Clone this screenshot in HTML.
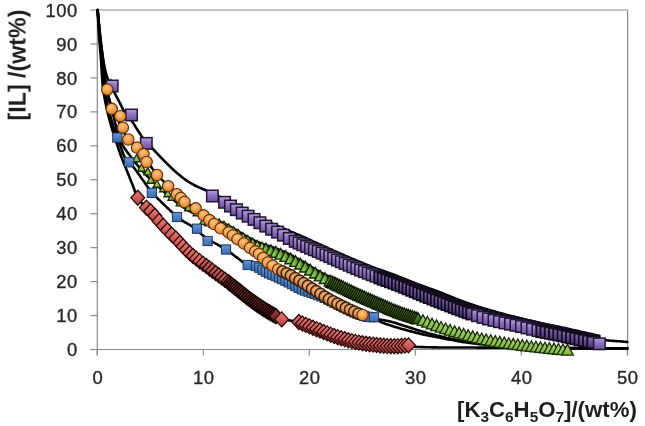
<!DOCTYPE html>
<html><head><meta charset="utf-8"><style>
html,body{margin:0;padding:0;background:#fff;}
body{width:645px;height:426px;overflow:hidden;}
svg{display:block;}
.ax{stroke:#8c8c8c;stroke-width:1.2;fill:none;}
.crv{stroke:#000;stroke-width:2.6;fill:none;stroke-linejoin:round;stroke-linecap:round;}
.tl{font-family:"Liberation Sans",sans-serif;font-size:18.4px;fill:#262626;stroke:#262626;stroke-width:0.35px;letter-spacing:0.5px;}
.tt{font-family:"Liberation Sans",sans-serif;font-size:21.5px;font-weight:bold;fill:#1e1e1e;}
.pu{fill:url(#gpu);stroke:#1f1630;stroke-width:1.5;}
.bl{fill:url(#gbl);stroke:#1b3558;stroke-width:1.0;}
.or{fill:url(#gor);stroke:#5a2f08;stroke-width:1.1;}
.gr{fill:url(#ggr);stroke:#1b2a08;stroke-width:1.3;stroke-linejoin:miter;}
.rd{fill:url(#grd);stroke:#2e0a09;stroke-width:1.3;stroke-linejoin:miter;}
.pu2{fill:url(#gpu2);stroke:#110b1c;stroke-width:1.8;}
.gr2{fill:url(#ggr2);stroke:#101a04;stroke-width:1.4;stroke-linejoin:miter;}
.rd2{fill:url(#grd2);stroke:#140303;stroke-width:1.5;stroke-linejoin:miter;}
.rd3{fill:url(#grd3);stroke:#2a0807;stroke-width:1.4;stroke-linejoin:miter;}
.or2{fill:url(#gor2);stroke:#3a1c08;stroke-width:1.5;}
.gr3{fill:url(#ggr3);stroke:#17260a;stroke-width:1.4;stroke-linejoin:miter;}
</style></head><body>
<svg width="645" height="426" viewBox="0 0 645 426">
<defs>
<linearGradient id="gpu" x1="0" y1="0" x2="0" y2="1"><stop offset="0" stop-color="#b49edc"/><stop offset="0.45" stop-color="#8f72bf"/><stop offset="1" stop-color="#6c50a0"/></linearGradient>
<linearGradient id="gbl" x1="0" y1="0" x2="0" y2="1"><stop offset="0" stop-color="#6a98d6"/><stop offset="0.5" stop-color="#4a7fc4"/><stop offset="1" stop-color="#3d6eae"/></linearGradient>
<radialGradient id="gor" cx="0.45" cy="0.35" r="0.65"><stop offset="0" stop-color="#fcc684"/><stop offset="0.6" stop-color="#f39a45"/><stop offset="1" stop-color="#d27426"/></radialGradient>
<linearGradient id="ggr" x1="0" y1="0" x2="0" y2="1"><stop offset="0" stop-color="#a8dc68"/><stop offset="1" stop-color="#80b43c"/></linearGradient>
<linearGradient id="grd" x1="0" y1="0" x2="0" y2="1"><stop offset="0" stop-color="#e77e7a"/><stop offset="0.5" stop-color="#d05c58"/><stop offset="1" stop-color="#ad403d"/></linearGradient>
<linearGradient id="gpu2" x1="0" y1="0" x2="0" y2="1"><stop offset="0" stop-color="#8470ad"/><stop offset="0.5" stop-color="#654d96"/><stop offset="1" stop-color="#45336f"/></linearGradient>
<linearGradient id="ggr2" x1="0" y1="0" x2="0" y2="1"><stop offset="0" stop-color="#5e9630"/><stop offset="1" stop-color="#2e5012"/></linearGradient>
<linearGradient id="grd2" x1="0" y1="0" x2="0" y2="1"><stop offset="0" stop-color="#9c403d"/><stop offset="1" stop-color="#5a1a19"/></linearGradient>
<linearGradient id="grd3" x1="0" y1="0" x2="0" y2="1"><stop offset="0" stop-color="#d06a66"/><stop offset="1" stop-color="#8e3432"/></linearGradient>
<radialGradient id="gor2" cx="0.5" cy="0.4" r="0.6"><stop offset="0" stop-color="#f0c088"/><stop offset="0.6" stop-color="#d89654"/><stop offset="1" stop-color="#9a5c26"/></radialGradient>
<linearGradient id="ggr3" x1="0" y1="0" x2="1" y2="0"><stop offset="0" stop-color="#4a7d22"/><stop offset="0.3" stop-color="#8fd052"/><stop offset="0.6" stop-color="#5e9630"/><stop offset="1" stop-color="#3f6a1c"/></linearGradient>
</defs>
<line class="ax" x1="97.3" y1="10" x2="627.6" y2="10"/>
<line class="ax" x1="627.6" y1="10" x2="627.6" y2="355.5"/>
<line class="ax" x1="97.3" y1="10" x2="97.3" y2="355.5"/>
<line class="ax" x1="90.5" y1="349.5" x2="627.6" y2="349.5"/>
<line class="ax" x1="90.5" y1="349.50" x2="97.3" y2="349.50"/>
<line class="ax" x1="90.5" y1="315.55" x2="97.3" y2="315.55"/>
<line class="ax" x1="90.5" y1="281.60" x2="97.3" y2="281.60"/>
<line class="ax" x1="90.5" y1="247.65" x2="97.3" y2="247.65"/>
<line class="ax" x1="90.5" y1="213.70" x2="97.3" y2="213.70"/>
<line class="ax" x1="90.5" y1="179.75" x2="97.3" y2="179.75"/>
<line class="ax" x1="90.5" y1="145.80" x2="97.3" y2="145.80"/>
<line class="ax" x1="90.5" y1="111.85" x2="97.3" y2="111.85"/>
<line class="ax" x1="90.5" y1="77.90" x2="97.3" y2="77.90"/>
<line class="ax" x1="90.5" y1="43.95" x2="97.3" y2="43.95"/>
<line class="ax" x1="90.5" y1="10.00" x2="97.3" y2="10.00"/>
<line class="ax" x1="97.30" y1="349.5" x2="97.30" y2="355.5"/>
<line class="ax" x1="203.30" y1="349.5" x2="203.30" y2="355.5"/>
<line class="ax" x1="309.30" y1="349.5" x2="309.30" y2="355.5"/>
<line class="ax" x1="415.30" y1="349.5" x2="415.30" y2="355.5"/>
<line class="ax" x1="521.30" y1="349.5" x2="521.30" y2="355.5"/>
<line class="ax" x1="627.30" y1="349.5" x2="627.30" y2="355.5"/>
<g opacity="0.995"><text class="tl" x="77.7" y="356.10" text-anchor="end">0</text>
<text class="tl" x="77.7" y="322.15" text-anchor="end">10</text>
<text class="tl" x="77.7" y="288.20" text-anchor="end">20</text>
<text class="tl" x="77.7" y="254.25" text-anchor="end">30</text>
<text class="tl" x="77.7" y="220.30" text-anchor="end">40</text>
<text class="tl" x="77.7" y="186.35" text-anchor="end">50</text>
<text class="tl" x="77.7" y="152.40" text-anchor="end">60</text>
<text class="tl" x="77.7" y="118.45" text-anchor="end">70</text>
<text class="tl" x="77.7" y="84.50" text-anchor="end">80</text>
<text class="tl" x="77.7" y="50.55" text-anchor="end">90</text>
<text class="tl" x="77.7" y="16.60" text-anchor="end">100</text>
<text class="tl" x="97.80" y="384.0" text-anchor="middle">0</text>
<text class="tl" x="203.80" y="384.0" text-anchor="middle">10</text>
<text class="tl" x="309.80" y="384.0" text-anchor="middle">20</text>
<text class="tl" x="415.80" y="384.0" text-anchor="middle">30</text>
<text class="tl" x="521.80" y="384.0" text-anchor="middle">40</text>
<text class="tl" x="627.80" y="384.0" text-anchor="middle">50</text>
<text class="tt" transform="translate(25.6,65) rotate(-90)" text-anchor="middle" textLength="110.8" lengthAdjust="spacingAndGlyphs" style="font-size:23.5px">[IL] /(wt%)</text>
<text class="tt" x="457" y="416.5" textLength="179.8" lengthAdjust="spacingAndGlyphs" style="font-size:22.3px">[K<tspan font-size="15.5" dy="5">3</tspan><tspan dy="-5">C</tspan><tspan font-size="15.5" dy="5">6</tspan><tspan dy="-5">H</tspan><tspan font-size="15.5" dy="5">5</tspan><tspan dy="-5">O</tspan><tspan font-size="15.5" dy="5">7</tspan><tspan dy="-5">]/(wt%)</tspan></text>
</g>
<path class="crv" d="M97.60,10.00 L97.67,11.25 L97.74,12.50 L97.80,13.75 L97.87,15.00 L97.94,16.25 L98.00,17.50 L98.07,18.75 L98.13,20.00 L98.20,21.25 L98.26,22.50 L98.33,23.75 L98.40,25.00 L98.47,26.25 L98.54,27.50 L98.61,28.75 L98.68,30.00 L98.76,31.25 L98.84,32.50 L98.92,33.75 L99.00,35.00 L99.09,36.25 L99.18,37.49 L99.27,38.73 L99.36,39.96 L99.46,41.20 L99.55,42.43 L99.65,43.66 L99.75,44.89 L99.85,46.12 L99.96,47.36 L100.06,48.60 L100.16,49.84 L100.27,51.08 L100.37,52.33 L100.48,53.59 L100.58,54.85 L100.69,56.13 L100.79,57.41 L100.90,58.70 L101.00,60.00 L101.11,61.44 L101.21,62.90 L101.31,64.37 L101.40,65.86 L101.49,67.36 L101.58,68.87 L101.66,70.39 L101.75,71.92 L101.84,73.45 L101.93,74.98 L102.03,76.51 L102.13,78.04 L102.24,79.57 L102.36,81.09 L102.49,82.60 L102.62,84.11 L102.77,85.60 L102.93,87.08 L103.11,88.55 L103.30,90.00 L103.49,91.35 L103.70,92.71 L103.91,94.06 L104.14,95.42 L104.37,96.77 L104.62,98.12 L104.87,99.46 L105.13,100.80 L105.39,102.13 L105.66,103.45 L105.94,104.77 L106.22,106.07 L106.50,107.37 L106.78,108.65 L107.07,109.91 L107.36,111.17 L107.64,112.40 L107.93,113.62 L108.22,114.82 L108.50,116.00 L108.74,116.97 L108.98,117.95 L109.23,118.91 L109.48,119.88 L109.73,120.83 L109.99,121.78 L110.25,122.72 L110.51,123.66 L110.77,124.58 L111.03,125.49 L111.29,126.38 L111.55,127.27 L111.81,128.14 L112.06,128.99 L112.32,129.82 L112.56,130.64 L112.81,131.44 L113.04,132.21 L113.27,132.97 L113.50,133.70 L113.65,134.19 L113.80,134.66 L113.94,135.11 L114.08,135.55 L114.22,135.97 L114.36,136.39 L114.49,136.79 L114.62,137.19 L114.76,137.58 L114.89,137.97 L115.02,138.35 L115.15,138.74 L115.29,139.13 L115.42,139.53 L115.56,139.93 L115.70,140.34 L115.84,140.76 L115.99,141.19 L116.14,141.64 L116.30,142.10 L116.51,142.72 L116.72,143.35 L116.93,143.99 L117.15,144.65 L117.37,145.32 L117.59,146.00 L117.81,146.69 L118.04,147.39 L118.28,148.10 L118.51,148.81 L118.75,149.53 L118.99,150.25 L119.23,150.97 L119.48,151.69 L119.73,152.42 L119.98,153.14 L120.23,153.86 L120.48,154.58 L120.74,155.29 L121.00,156.00 L121.28,156.74 L121.56,157.48 L121.84,158.23 L122.13,158.97 L122.42,159.72 L122.72,160.47 L123.02,161.22 L123.32,161.97 L123.63,162.72 L123.93,163.47 L124.24,164.23 L124.55,164.98 L124.86,165.73 L125.17,166.49 L125.47,167.24 L125.78,167.99 L126.09,168.75 L126.40,169.50 L126.70,170.25 L127.00,171.00 L127.30,171.75 L127.60,172.51 L127.91,173.27 L128.21,174.03 L128.51,174.79 L128.82,175.56 L129.13,176.32 L129.43,177.09 L129.74,177.85 L130.04,178.61 L130.34,179.37 L130.65,180.13 L130.95,180.88 L131.25,181.63 L131.54,182.38 L131.84,183.12 L132.13,183.85 L132.43,184.57 L132.71,185.29 L133.00,186.00 L133.25,186.62 L133.48,187.25 L133.71,187.87 L133.93,188.49 L134.15,189.10 L134.36,189.71 L134.57,190.32 L134.78,190.92 L134.99,191.52 L135.20,192.12 L135.42,192.71 L135.64,193.30 L135.87,193.88 L136.11,194.46 L136.35,195.03 L136.61,195.60 L136.89,196.16 L137.17,196.71 L137.48,197.26 L137.80,197.80 L138.15,198.34 L138.51,198.88 L138.89,199.41 L139.29,199.94 L139.70,200.47 L140.12,200.99 L140.56,201.50 L141.00,202.01 L141.45,202.52 L141.91,203.02 L142.36,203.51 L142.83,203.99 L143.29,204.47 L143.75,204.94 L144.21,205.40 L144.66,205.86 L145.11,206.31 L145.55,206.75 L145.98,207.18 L146.40,207.60 L146.74,207.94 L147.08,208.26 L147.41,208.57 L147.75,208.87 L148.08,209.16 L148.41,209.45 L148.74,209.72 L149.07,210.00 L149.39,210.27 L149.72,210.54 L150.05,210.81 L150.37,211.08 L150.70,211.35 L151.03,211.63 L151.35,211.92 L151.68,212.21 L152.01,212.52 L152.34,212.83 L152.67,213.16 L153.00,213.50 L153.40,213.93 L153.80,214.38 L154.20,214.84 L154.60,215.31 L155.00,215.80 L155.41,216.30 L155.81,216.80 L156.21,217.32 L156.61,217.84 L157.02,218.36 L157.42,218.89 L157.82,219.41 L158.23,219.94 L158.64,220.47 L159.04,220.99 L159.45,221.51 L159.86,222.02 L160.27,222.52 L160.69,223.02 L161.10,223.50 L161.50,223.96 L161.90,224.42 L162.31,224.87 L162.71,225.33 L163.12,225.78 L163.52,226.23 L163.93,226.68 L164.34,227.12 L164.75,227.57 L165.16,228.01 L165.57,228.45 L165.98,228.88 L166.39,229.32 L166.81,229.75 L167.22,230.18 L167.64,230.61 L168.05,231.03 L168.47,231.46 L168.88,231.88 L169.30,232.30 L169.71,232.70 L170.12,233.10 L170.53,233.50 L170.95,233.90 L171.38,234.29 L171.80,234.68 L172.23,235.07 L172.66,235.45 L173.08,235.84 L173.51,236.22 L173.93,236.60 L174.35,236.98 L174.77,237.36 L175.18,237.74 L175.58,238.12 L175.98,238.49 L176.37,238.87 L176.76,239.25 L177.13,239.62 L177.50,240.00 L177.81,240.33 L178.10,240.65 L178.39,240.97 L178.67,241.29 L178.95,241.61 L179.22,241.93 L179.48,242.24 L179.74,242.56 L180.00,242.87 L180.26,243.19 L180.52,243.51 L180.78,243.82 L181.04,244.14 L181.30,244.46 L181.57,244.78 L181.84,245.10 L182.12,245.42 L182.40,245.74 L182.70,246.07 L183.00,246.40 L183.36,246.78 L183.72,247.17 L184.09,247.56 L184.47,247.96 L184.85,248.35 L185.23,248.75 L185.62,249.15 L186.02,249.55 L186.42,249.95 L186.82,250.36 L187.22,250.76 L187.63,251.16 L188.05,251.56 L188.46,251.96 L188.88,252.36 L189.30,252.75 L189.72,253.15 L190.15,253.53 L190.57,253.92 L191.00,254.30 L191.45,254.69 L191.90,255.08 L192.36,255.47 L192.82,255.85 L193.29,256.23 L193.76,256.62 L194.23,256.99 L194.71,257.37 L195.19,257.75 L195.67,258.12 L196.15,258.49 L196.63,258.86 L197.12,259.23 L197.60,259.60 L198.09,259.97 L198.57,260.34 L199.06,260.70 L199.54,261.07 L200.02,261.44 L200.50,261.80 L200.97,262.16 L201.44,262.52 L201.92,262.87 L202.39,263.22 L202.86,263.57 L203.33,263.92 L203.81,264.27 L204.28,264.62 L204.75,264.97 L205.23,265.31 L205.70,265.66 L206.18,266.00 L206.65,266.35 L207.13,266.70 L207.61,267.05 L208.08,267.39 L208.56,267.74 L209.04,268.09 L209.52,268.45 L210.00,268.80 L210.50,269.17 L210.99,269.53 L211.49,269.90 L212.00,270.28 L212.50,270.65 L213.00,271.02 L213.51,271.40 L214.02,271.77 L214.52,272.15 L215.03,272.53 L215.54,272.90 L216.04,273.27 L216.54,273.65 L217.05,274.02 L217.55,274.39 L218.04,274.76 L218.54,275.12 L219.03,275.48 L219.52,275.84 L220.00,276.20 L220.44,276.53 L220.88,276.85 L221.31,277.16 L221.74,277.47 L222.17,277.78 L222.59,278.09 L223.01,278.39 L223.43,278.70 L223.85,279.00 L224.27,279.30 L224.69,279.61 L225.11,279.91 L225.54,280.22 L225.96,280.53 L226.39,280.85 L226.82,281.17 L227.26,281.49 L227.70,281.82 L228.15,282.16 L228.60,282.50 L229.14,282.91 L229.68,283.33 L230.24,283.76 L230.80,284.19 L231.36,284.64 L231.94,285.09 L232.51,285.54 L233.09,286.00 L233.67,286.46 L234.26,286.92 L234.84,287.38 L235.43,287.85 L236.01,288.32 L236.59,288.78 L237.17,289.24 L237.75,289.70 L238.32,290.16 L238.88,290.61 L239.45,291.06 L240.00,291.50 L240.52,291.91 L241.03,292.32 L241.53,292.73 L242.04,293.14 L242.54,293.55 L243.04,293.96 L243.54,294.37 L244.04,294.77 L244.53,295.18 L245.03,295.58 L245.52,295.98 L246.02,296.38 L246.51,296.78 L247.00,297.18 L247.50,297.57 L248.00,297.96 L248.49,298.35 L248.99,298.74 L249.50,299.12 L250.00,299.50 L250.49,299.87 L250.99,300.24 L251.49,300.60 L251.98,300.96 L252.48,301.32 L252.98,301.68 L253.48,302.03 L253.98,302.39 L254.47,302.74 L254.98,303.09 L255.48,303.44 L255.98,303.78 L256.48,304.13 L256.98,304.47 L257.48,304.81 L257.99,305.15 L258.49,305.49 L258.99,305.83 L259.50,306.16 L260.00,306.50 L260.50,306.83 L260.99,307.15 L261.48,307.48 L261.98,307.80 L262.47,308.12 L262.96,308.43 L263.46,308.75 L263.95,309.07 L264.44,309.38 L264.94,309.69 L265.43,310.00 L265.93,310.31 L266.43,310.62 L266.93,310.93 L267.44,311.24 L267.94,311.55 L268.45,311.86 L268.97,312.18 L269.48,312.49 L270.00,312.80 L270.56,313.14 L271.12,313.49 L271.68,313.85 L272.26,314.22 L272.83,314.59 L273.41,314.97 L274.00,315.35 L274.58,315.72 L275.17,316.10 L275.76,316.47 L276.34,316.83 L276.93,317.18 L277.51,317.52 L278.10,317.85 L278.68,318.16 L279.25,318.45 L279.82,318.73 L280.39,318.98 L280.95,319.20 L281.50,319.40 L281.94,319.54 L282.38,319.66 L282.81,319.76 L283.24,319.85 L283.67,319.93 L284.09,319.99 L284.52,320.05 L284.94,320.09 L285.36,320.13 L285.78,320.16 L286.20,320.19 L286.62,320.21 L287.04,320.24 L287.45,320.26 L287.88,320.29 L288.30,320.32 L288.72,320.35 L289.14,320.39 L289.57,320.44 L290.00,320.50 L290.44,320.56 L290.88,320.62 L291.31,320.68 L291.73,320.74 L292.16,320.79 L292.58,320.85 L293.01,320.90 L293.43,320.96 L293.86,321.01 L294.29,321.07 L294.72,321.14 L295.16,321.21 L295.61,321.28 L296.06,321.36 L296.52,321.44 L296.99,321.54 L297.48,321.64 L297.97,321.75 L298.48,321.87 L299.00,322.00 L299.82,322.22 L300.67,322.46 L301.55,322.73 L302.47,323.02 L303.40,323.33 L304.37,323.65 L305.35,323.99 L306.35,324.35 L307.36,324.71 L308.38,325.09 L309.42,325.47 L310.45,325.85 L311.50,326.24 L312.54,326.64 L313.57,327.03 L314.60,327.41 L315.62,327.80 L316.63,328.17 L317.62,328.54 L318.60,328.90 L319.54,329.25 L320.48,329.60 L321.42,329.96 L322.35,330.32 L323.28,330.69 L324.21,331.06 L325.14,331.42 L326.06,331.79 L326.99,332.16 L327.91,332.53 L328.84,332.90 L329.76,333.26 L330.69,333.61 L331.61,333.96 L332.54,334.31 L333.47,334.65 L334.40,334.97 L335.33,335.29 L336.26,335.60 L337.20,335.90 L338.12,336.18 L339.05,336.46 L339.97,336.73 L340.90,336.99 L341.82,337.25 L342.75,337.50 L343.68,337.75 L344.61,337.99 L345.54,338.22 L346.47,338.45 L347.40,338.68 L348.33,338.90 L349.26,339.11 L350.20,339.32 L351.13,339.53 L352.06,339.73 L353.00,339.93 L353.93,340.12 L354.87,340.31 L355.80,340.50 L356.73,340.68 L357.65,340.86 L358.58,341.02 L359.51,341.19 L360.44,341.35 L361.37,341.50 L362.29,341.65 L363.22,341.79 L364.16,341.93 L365.09,342.07 L366.02,342.21 L366.95,342.34 L367.88,342.46 L368.81,342.59 L369.74,342.71 L370.67,342.83 L371.61,342.95 L372.54,343.07 L373.47,343.18 L374.40,343.30 L375.33,343.41 L376.26,343.52 L377.20,343.63 L378.14,343.73 L379.08,343.83 L380.02,343.92 L380.96,344.02 L381.90,344.11 L382.84,344.19 L383.78,344.28 L384.72,344.37 L385.66,344.45 L386.59,344.53 L387.52,344.61 L388.45,344.69 L389.37,344.78 L390.28,344.86 L391.20,344.94 L392.10,345.02 L393.00,345.10 L393.82,345.18 L394.64,345.25 L395.44,345.33 L396.24,345.41 L397.03,345.48 L397.82,345.56 L398.60,345.64 L399.38,345.71 L400.16,345.78 L400.94,345.86 L401.72,345.93 L402.50,346.00 L403.28,346.07 L404.08,346.14 L404.87,346.20 L405.68,346.27 L406.49,346.33 L407.32,346.39 L408.15,346.45 L409.00,346.50 L409.97,346.56 L410.94,346.62 L411.91,346.67 L412.87,346.72 L413.84,346.77 L414.81,346.82 L415.78,346.86 L416.76,346.90 L417.75,346.94 L418.76,346.98 L419.78,347.02 L420.82,347.06 L421.87,347.09 L422.95,347.12 L424.05,347.15 L425.18,347.18 L426.34,347.21 L427.52,347.24 L428.74,347.27 L430.00,347.30 L432.00,347.34 L434.08,347.38 L436.23,347.41 L438.45,347.43 L440.72,347.45 L443.06,347.47 L445.45,347.49 L447.90,347.50 L450.39,347.51 L452.93,347.52 L455.51,347.53 L458.13,347.53 L460.78,347.54 L463.47,347.54 L466.18,347.55 L468.91,347.56 L471.66,347.57 L474.43,347.57 L477.21,347.59 L480.00,347.60 L483.59,347.62 L487.27,347.64 L491.05,347.66 L494.91,347.68 L498.85,347.70 L502.84,347.72 L506.89,347.74 L510.98,347.76 L515.11,347.78 L519.26,347.80 L523.43,347.82 L527.60,347.84 L531.77,347.86 L535.92,347.88 L540.05,347.90 L544.14,347.92 L548.20,347.94 L552.20,347.96 L556.13,347.98 L560.00,348.00 L563.50,348.02 L566.97,348.03 L570.41,348.05 L573.83,348.06 L577.23,348.08 L580.62,348.09 L583.98,348.11 L587.34,348.12 L590.68,348.14 L594.01,348.15 L597.34,348.17 L600.66,348.18 L603.98,348.20 L607.29,348.21 L610.61,348.23 L613.93,348.24 L617.26,348.26 L620.60,348.27 L623.94,348.29 L627.30,348.30"/>
<path class="crv" d="M97.60,10.00 L97.69,11.25 L97.79,12.50 L97.88,13.75 L97.97,15.00 L98.06,16.25 L98.15,17.50 L98.24,18.75 L98.33,20.00 L98.42,21.25 L98.51,22.50 L98.60,23.75 L98.70,25.00 L98.79,26.25 L98.89,27.50 L98.98,28.75 L99.08,30.00 L99.18,31.25 L99.29,32.50 L99.39,33.75 L99.50,35.00 L99.61,36.25 L99.72,37.49 L99.84,38.73 L99.96,39.97 L100.08,41.20 L100.20,42.43 L100.32,43.66 L100.45,44.89 L100.57,46.12 L100.70,47.36 L100.83,48.60 L100.95,49.84 L101.08,51.08 L101.21,52.33 L101.34,53.59 L101.48,54.85 L101.61,56.13 L101.74,57.41 L101.87,58.70 L102.00,60.00 L102.14,61.44 L102.28,62.90 L102.41,64.38 L102.54,65.87 L102.67,67.38 L102.80,68.89 L102.93,70.41 L103.06,71.94 L103.19,73.48 L103.32,75.01 L103.46,76.55 L103.60,78.08 L103.75,79.61 L103.90,81.13 L104.07,82.64 L104.23,84.14 L104.41,85.63 L104.60,87.11 L104.79,88.56 L105.00,90.00 L105.20,91.31 L105.40,92.60 L105.60,93.88 L105.81,95.15 L106.02,96.41 L106.23,97.66 L106.45,98.91 L106.68,100.15 L106.91,101.39 L107.15,102.62 L107.39,103.85 L107.65,105.08 L107.91,106.31 L108.18,107.54 L108.45,108.77 L108.74,110.00 L109.04,111.24 L109.35,112.49 L109.67,113.74 L110.00,115.00 L110.37,116.35 L110.75,117.71 L111.16,119.09 L111.58,120.48 L112.01,121.87 L112.46,123.27 L112.92,124.68 L113.38,126.08 L113.86,127.49 L114.34,128.89 L114.82,130.28 L115.31,131.66 L115.80,133.04 L116.29,134.39 L116.77,135.73 L117.25,137.06 L117.73,138.36 L118.19,139.63 L118.65,140.88 L119.10,142.10 L119.45,143.08 L119.80,144.06 L120.14,145.04 L120.47,146.02 L120.80,146.99 L121.13,147.96 L121.45,148.92 L121.77,149.86 L122.10,150.80 L122.42,151.72 L122.75,152.62 L123.09,153.51 L123.43,154.37 L123.78,155.21 L124.13,156.03 L124.50,156.83 L124.88,157.59 L125.27,158.33 L125.68,159.03 L126.10,159.70 L126.42,160.16 L126.74,160.59 L127.07,161.00 L127.41,161.38 L127.75,161.75 L128.09,162.09 L128.45,162.43 L128.80,162.75 L129.16,163.06 L129.52,163.37 L129.89,163.68 L130.25,163.99 L130.62,164.30 L130.99,164.61 L131.36,164.94 L131.73,165.27 L132.10,165.63 L132.47,166.00 L132.83,166.39 L133.20,166.80 L133.67,167.36 L134.14,167.94 L134.62,168.55 L135.10,169.17 L135.59,169.82 L136.08,170.48 L136.57,171.15 L137.06,171.83 L137.56,172.52 L138.05,173.22 L138.54,173.92 L139.03,174.63 L139.52,175.33 L140.00,176.03 L140.48,176.72 L140.96,177.40 L141.43,178.07 L141.89,178.73 L142.35,179.38 L142.80,180.00 L143.18,180.53 L143.56,181.07 L143.94,181.59 L144.31,182.12 L144.68,182.65 L145.04,183.17 L145.40,183.69 L145.76,184.20 L146.12,184.72 L146.47,185.22 L146.82,185.73 L147.18,186.22 L147.53,186.72 L147.88,187.20 L148.23,187.69 L148.58,188.16 L148.93,188.63 L149.29,189.09 L149.64,189.55 L150.00,190.00 L150.31,190.38 L150.61,190.75 L150.90,191.10 L151.19,191.44 L151.47,191.78 L151.76,192.11 L152.04,192.44 L152.32,192.76 L152.60,193.08 L152.89,193.39 L153.18,193.71 L153.48,194.04 L153.78,194.36 L154.09,194.69 L154.41,195.03 L154.74,195.38 L155.08,195.74 L155.44,196.11 L155.81,196.50 L156.20,196.90 L156.86,197.57 L157.56,198.29 L158.32,199.05 L159.11,199.84 L159.94,200.66 L160.81,201.51 L161.69,202.38 L162.60,203.26 L163.52,204.15 L164.45,205.04 L165.39,205.93 L166.32,206.82 L167.25,207.70 L168.16,208.56 L169.06,209.40 L169.93,210.21 L170.78,210.99 L171.59,211.74 L172.37,212.44 L173.10,213.10 L173.58,213.53 L174.04,213.94 L174.48,214.34 L174.92,214.73 L175.34,215.10 L175.76,215.47 L176.17,215.83 L176.57,216.18 L176.97,216.53 L177.37,216.87 L177.76,217.20 L178.15,217.53 L178.55,217.85 L178.95,218.17 L179.35,218.49 L179.76,218.81 L180.18,219.13 L180.61,219.45 L181.05,219.78 L181.50,220.10 L181.99,220.44 L182.49,220.77 L182.99,221.09 L183.49,221.40 L184.00,221.71 L184.52,222.01 L185.03,222.30 L185.56,222.60 L186.08,222.89 L186.62,223.19 L187.15,223.48 L187.69,223.78 L188.23,224.09 L188.78,224.40 L189.32,224.72 L189.87,225.05 L190.43,225.39 L190.98,225.75 L191.54,226.12 L192.10,226.50 L192.80,227.00 L193.50,227.53 L194.21,228.07 L194.91,228.64 L195.63,229.22 L196.34,229.82 L197.06,230.44 L197.79,231.06 L198.52,231.69 L199.26,232.32 L200.00,232.96 L200.75,233.61 L201.51,234.25 L202.27,234.88 L203.04,235.51 L203.81,236.14 L204.60,236.75 L205.39,237.35 L206.19,237.93 L207.00,238.50 L207.88,239.09 L208.77,239.66 L209.67,240.23 L210.59,240.78 L211.51,241.32 L212.45,241.85 L213.39,242.38 L214.34,242.90 L215.30,243.42 L216.26,243.94 L217.23,244.46 L218.20,244.98 L219.18,245.51 L220.15,246.05 L221.13,246.59 L222.11,247.14 L223.08,247.71 L224.06,248.29 L225.03,248.89 L226.00,249.50 L227.07,250.21 L228.15,250.95 L229.24,251.73 L230.33,252.53 L231.43,253.35 L232.54,254.20 L233.65,255.05 L234.75,255.91 L235.86,256.78 L236.97,257.64 L238.08,258.49 L239.18,259.33 L240.28,260.15 L241.37,260.95 L242.45,261.73 L243.52,262.47 L244.59,263.17 L245.64,263.83 L246.68,264.44 L247.70,265.00 L248.48,265.39 L249.25,265.76 L250.01,266.09 L250.77,266.40 L251.53,266.69 L252.28,266.97 L253.03,267.22 L253.77,267.46 L254.51,267.70 L255.24,267.92 L255.97,268.14 L256.70,268.35 L257.43,268.57 L258.16,268.79 L258.88,269.01 L259.61,269.24 L260.33,269.48 L261.05,269.74 L261.78,270.01 L262.50,270.30 L263.22,270.60 L263.92,270.90 L264.62,271.20 L265.31,271.51 L265.99,271.82 L266.67,272.13 L267.35,272.44 L268.03,272.76 L268.70,273.08 L269.38,273.40 L270.06,273.74 L270.75,274.07 L271.44,274.41 L272.14,274.76 L272.86,275.12 L273.58,275.48 L274.31,275.85 L275.06,276.22 L275.82,276.61 L276.60,277.00 L277.64,277.53 L278.72,278.09 L279.82,278.68 L280.94,279.28 L282.08,279.90 L283.25,280.54 L284.42,281.19 L285.62,281.85 L286.82,282.52 L288.03,283.19 L289.25,283.86 L290.47,284.53 L291.68,285.20 L292.90,285.86 L294.11,286.50 L295.32,287.14 L296.51,287.76 L297.69,288.36 L298.85,288.94 L300.00,289.50 L301.03,289.99 L302.04,290.46 L303.06,290.93 L304.07,291.39 L305.07,291.83 L306.08,292.28 L307.08,292.71 L308.07,293.14 L309.07,293.56 L310.06,293.98 L311.05,294.39 L312.04,294.80 L313.03,295.20 L314.02,295.60 L315.01,296.00 L316.01,296.40 L317.00,296.80 L318.00,297.20 L319.00,297.60 L320.00,298.00 L321.00,298.40 L321.99,298.79 L322.99,299.18 L323.99,299.57 L324.98,299.96 L325.98,300.35 L326.98,300.73 L327.98,301.11 L328.98,301.49 L329.98,301.87 L330.98,302.24 L331.98,302.61 L332.98,302.98 L333.98,303.35 L334.98,303.71 L335.99,304.08 L336.99,304.44 L337.99,304.79 L339.00,305.15 L340.00,305.50 L341.00,305.85 L342.01,306.19 L343.03,306.53 L344.05,306.86 L345.08,307.19 L346.11,307.52 L347.14,307.84 L348.17,308.17 L349.20,308.49 L350.22,308.81 L351.25,309.13 L352.26,309.44 L353.27,309.76 L354.27,310.08 L355.26,310.40 L356.24,310.71 L357.20,311.03 L358.15,311.35 L359.08,311.68 L360.00,312.00 L360.77,312.27 L361.54,312.55 L362.31,312.82 L363.07,313.09 L363.84,313.37 L364.59,313.64 L365.35,313.91 L366.09,314.18 L366.83,314.46 L367.56,314.73 L368.28,315.00 L368.98,315.28 L369.67,315.55 L370.35,315.83 L371.01,316.10 L371.65,316.38 L372.27,316.66 L372.87,316.94 L373.45,317.22 L374.00,317.50 L374.37,317.70 L374.71,317.90 L375.04,318.10 L375.36,318.30 L375.67,318.51 L375.96,318.71 L376.24,318.92 L376.52,319.13 L376.79,319.33 L377.06,319.54 L377.33,319.75 L377.60,319.95 L377.87,320.15 L378.15,320.35 L378.43,320.55 L378.72,320.75 L379.02,320.94 L379.33,321.13 L379.66,321.32 L380.00,321.50 L380.43,321.72 L380.86,321.92 L381.29,322.13 L381.72,322.32 L382.16,322.51 L382.61,322.70 L383.06,322.88 L383.52,323.06 L383.99,323.24 L384.47,323.42 L384.95,323.60 L385.45,323.78 L385.97,323.96 L386.50,324.14 L387.04,324.32 L387.59,324.51 L388.17,324.70 L388.76,324.89 L389.37,325.09 L390.00,325.30 L391.14,325.67 L392.37,326.06 L393.67,326.47 L395.05,326.89 L396.49,327.32 L397.99,327.76 L399.53,328.21 L401.11,328.67 L402.71,329.13 L404.35,329.59 L405.99,330.05 L407.64,330.50 L409.28,330.95 L410.92,331.38 L412.53,331.81 L414.11,332.23 L415.66,332.62 L417.16,333.00 L418.61,333.36 L420.00,333.70 L421.08,333.96 L422.14,334.20 L423.19,334.43 L424.21,334.66 L425.22,334.87 L426.21,335.08 L427.19,335.28 L428.17,335.47 L429.13,335.66 L430.10,335.85 L431.06,336.03 L432.02,336.21 L432.98,336.39 L433.95,336.57 L434.93,336.75 L435.92,336.93 L436.91,337.12 L437.93,337.31 L438.95,337.50 L440.00,337.70 L441.18,337.93 L442.37,338.16 L443.56,338.40 L444.75,338.63 L445.95,338.88 L447.16,339.12 L448.37,339.36 L449.59,339.60 L450.81,339.84 L452.05,340.08 L453.30,340.32 L454.55,340.56 L455.81,340.79 L457.09,341.03 L458.38,341.25 L459.68,341.47 L460.99,341.69 L462.31,341.90 L463.65,342.10 L465.00,342.30 L466.60,342.52 L468.21,342.74 L469.83,342.95 L471.46,343.16 L473.10,343.36 L474.76,343.55 L476.43,343.74 L478.11,343.92 L479.81,344.10 L481.53,344.28 L483.27,344.45 L485.03,344.61 L486.81,344.77 L488.61,344.93 L490.44,345.08 L492.30,345.23 L494.18,345.38 L496.09,345.52 L498.03,345.66 L500.00,345.80 L502.63,345.97 L505.33,346.14 L508.09,346.29 L510.91,346.44 L513.78,346.58 L516.70,346.71 L519.67,346.83 L522.67,346.95 L525.71,347.06 L528.77,347.17 L531.86,347.27 L534.97,347.36 L538.10,347.45 L541.24,347.54 L544.38,347.62 L547.52,347.70 L550.66,347.78 L553.79,347.86 L556.90,347.93 L560.00,348.00 L563.28,348.07 L566.57,348.13 L569.88,348.19 L573.21,348.23 L576.55,348.28 L579.90,348.31 L583.27,348.34 L586.64,348.37 L590.02,348.39 L593.41,348.41 L596.80,348.43 L600.19,348.45 L603.59,348.46 L606.99,348.48 L610.38,348.49 L613.78,348.51 L617.17,348.53 L620.55,348.55 L623.93,348.57 L627.30,348.60"/>
<path class="crv" d="M97.60,10.00 L97.71,11.25 L97.82,12.50 L97.93,13.75 L98.03,15.00 L98.14,16.25 L98.24,17.50 L98.35,18.75 L98.46,20.00 L98.56,21.25 L98.67,22.50 L98.78,23.75 L98.88,25.00 L98.99,26.25 L99.10,27.50 L99.22,28.75 L99.33,30.00 L99.44,31.25 L99.56,32.50 L99.68,33.75 L99.80,35.00 L99.92,36.25 L100.05,37.50 L100.17,38.75 L100.30,40.00 L100.42,41.25 L100.55,42.50 L100.68,43.75 L100.81,45.00 L100.94,46.25 L101.07,47.50 L101.20,48.75 L101.34,50.00 L101.48,51.25 L101.62,52.50 L101.76,53.75 L101.90,55.00 L102.05,56.25 L102.20,57.50 L102.35,58.75 L102.50,60.00 L102.65,61.25 L102.81,62.50 L102.96,63.75 L103.11,65.01 L103.26,66.26 L103.41,67.51 L103.57,68.76 L103.73,70.01 L103.89,71.27 L104.05,72.52 L104.22,73.77 L104.39,75.02 L104.56,76.27 L104.75,77.52 L104.94,78.77 L105.13,80.02 L105.34,81.26 L105.55,82.51 L105.77,83.76 L106.00,85.00 L106.24,86.25 L106.49,87.50 L106.75,88.73 L107.01,89.97 L107.28,91.20 L107.56,92.42 L107.84,93.65 L108.13,94.87 L108.42,96.10 L108.72,97.33 L109.03,98.56 L109.34,99.80 L109.66,101.04 L109.98,102.29 L110.31,103.55 L110.64,104.81 L110.97,106.09 L111.31,107.38 L111.65,108.68 L112.00,110.00 L112.40,111.53 L112.79,113.11 L113.19,114.72 L113.58,116.36 L113.98,118.03 L114.39,119.72 L114.80,121.42 L115.21,123.13 L115.64,124.84 L116.07,126.54 L116.52,128.24 L116.97,129.92 L117.44,131.58 L117.92,133.21 L118.42,134.81 L118.94,136.37 L119.47,137.88 L120.03,139.35 L120.60,140.76 L121.20,142.10 L121.68,143.11 L122.18,144.09 L122.68,145.04 L123.20,145.97 L123.74,146.87 L124.28,147.75 L124.83,148.61 L125.39,149.46 L125.95,150.29 L126.53,151.11 L127.11,151.91 L127.70,152.71 L128.29,153.50 L128.88,154.28 L129.48,155.07 L130.08,155.85 L130.69,156.63 L131.29,157.41 L131.90,158.20 L132.50,159.00 L133.09,159.78 L133.69,160.56 L134.30,161.34 L134.91,162.11 L135.53,162.89 L136.15,163.66 L136.77,164.42 L137.40,165.18 L138.03,165.94 L138.67,166.69 L139.30,167.43 L139.94,168.17 L140.58,168.90 L141.22,169.63 L141.85,170.35 L142.49,171.05 L143.12,171.76 L143.75,172.45 L144.38,173.13 L145.00,173.80 L145.55,174.39 L146.10,174.96 L146.64,175.53 L147.18,176.08 L147.72,176.63 L148.26,177.16 L148.80,177.69 L149.33,178.22 L149.87,178.74 L150.41,179.26 L150.95,179.78 L151.49,180.29 L152.04,180.81 L152.59,181.32 L153.14,181.84 L153.70,182.36 L154.27,182.89 L154.84,183.42 L155.41,183.95 L156.00,184.50 L156.65,185.11 L157.32,185.73 L157.98,186.35 L158.65,186.97 L159.33,187.60 L160.01,188.23 L160.70,188.86 L161.39,189.49 L162.09,190.13 L162.79,190.76 L163.49,191.39 L164.20,192.03 L164.91,192.66 L165.63,193.29 L166.35,193.92 L167.07,194.54 L167.80,195.16 L168.53,195.78 L169.26,196.39 L170.00,197.00 L170.76,197.63 L171.54,198.26 L172.32,198.89 L173.10,199.53 L173.89,200.17 L174.69,200.80 L175.49,201.44 L176.30,202.07 L177.10,202.70 L177.91,203.33 L178.73,203.95 L179.54,204.56 L180.35,205.16 L181.16,205.75 L181.98,206.33 L182.79,206.89 L183.60,207.44 L184.40,207.98 L185.20,208.50 L186.00,209.00 L186.70,209.43 L187.39,209.85 L188.08,210.25 L188.76,210.65 L189.44,211.04 L190.12,211.41 L190.80,211.78 L191.47,212.14 L192.15,212.49 L192.83,212.84 L193.51,213.18 L194.20,213.51 L194.89,213.83 L195.59,214.16 L196.30,214.47 L197.02,214.78 L197.74,215.09 L198.48,215.40 L199.23,215.70 L200.00,216.00 L200.89,216.33 L201.81,216.64 L202.74,216.94 L203.70,217.23 L204.67,217.50 L205.66,217.76 L206.66,218.01 L207.67,218.26 L208.68,218.51 L209.70,218.75 L210.71,218.99 L211.72,219.24 L212.73,219.49 L213.73,219.74 L214.72,220.01 L215.69,220.28 L216.65,220.56 L217.59,220.86 L218.51,221.17 L219.40,221.50 L220.17,221.80 L220.92,222.11 L221.66,222.42 L222.39,222.74 L223.10,223.07 L223.81,223.39 L224.51,223.73 L225.20,224.07 L225.88,224.41 L226.57,224.76 L227.25,225.11 L227.93,225.47 L228.61,225.83 L229.29,226.20 L229.97,226.57 L230.66,226.95 L231.36,227.33 L232.06,227.72 L232.78,228.11 L233.50,228.50 L234.32,228.95 L235.16,229.43 L236.01,229.92 L236.87,230.42 L237.74,230.94 L238.62,231.47 L239.50,232.01 L240.38,232.55 L241.27,233.09 L242.15,233.64 L243.03,234.18 L243.90,234.71 L244.76,235.24 L245.62,235.76 L246.46,236.26 L247.28,236.75 L248.09,237.22 L248.88,237.67 L249.65,238.10 L250.40,238.50 L250.93,238.78 L251.44,239.05 L251.93,239.30 L252.41,239.55 L252.88,239.79 L253.34,240.02 L253.79,240.24 L254.23,240.46 L254.67,240.67 L255.11,240.88 L255.56,241.08 L256.00,241.29 L256.46,241.49 L256.92,241.70 L257.39,241.91 L257.88,242.11 L258.38,242.33 L258.90,242.55 L259.44,242.77 L260.00,243.00 L260.83,243.33 L261.70,243.66 L262.60,243.98 L263.53,244.31 L264.48,244.63 L265.46,244.96 L266.46,245.29 L267.48,245.62 L268.52,245.95 L269.56,246.28 L270.62,246.62 L271.68,246.97 L272.74,247.32 L273.80,247.68 L274.86,248.04 L275.91,248.42 L276.96,248.80 L277.99,249.19 L279.00,249.59 L280.00,250.00 L281.01,250.43 L282.02,250.88 L283.03,251.33 L284.04,251.79 L285.05,252.26 L286.05,252.74 L287.06,253.22 L288.06,253.71 L289.06,254.21 L290.06,254.71 L291.06,255.22 L292.06,255.74 L293.05,256.26 L294.05,256.78 L295.04,257.31 L296.04,257.84 L297.03,258.38 L298.02,258.92 L299.01,259.46 L300.00,260.00 L301.01,260.56 L302.02,261.13 L303.02,261.72 L304.02,262.31 L305.02,262.92 L306.02,263.52 L307.01,264.14 L308.01,264.76 L309.01,265.38 L310.00,266.00 L310.99,266.62 L311.99,267.24 L312.99,267.86 L313.98,268.48 L314.98,269.08 L315.98,269.69 L316.98,270.28 L317.98,270.87 L318.99,271.44 L320.00,272.00 L320.99,272.54 L321.98,273.07 L322.98,273.60 L323.97,274.12 L324.97,274.63 L325.97,275.14 L326.97,275.65 L327.97,276.15 L328.97,276.64 L329.97,277.14 L330.97,277.63 L331.97,278.12 L332.98,278.60 L333.98,279.09 L334.98,279.57 L335.99,280.06 L336.99,280.54 L337.99,281.03 L339.00,281.51 L340.00,282.00 L340.99,282.48 L341.99,282.97 L342.97,283.45 L343.96,283.92 L344.94,284.40 L345.92,284.87 L346.90,285.34 L347.88,285.81 L348.86,286.28 L349.85,286.75 L350.83,287.22 L351.82,287.69 L352.82,288.16 L353.82,288.64 L354.83,289.11 L355.85,289.58 L356.87,290.06 L357.90,290.54 L358.95,291.02 L360.00,291.50 L361.19,292.04 L362.41,292.59 L363.65,293.15 L364.91,293.72 L366.19,294.29 L367.48,294.86 L368.79,295.43 L370.09,296.01 L371.40,296.58 L372.71,297.15 L374.02,297.72 L375.31,298.29 L376.60,298.85 L377.87,299.40 L379.13,299.94 L380.36,300.48 L381.56,301.00 L382.74,301.52 L383.89,302.02 L385.00,302.50 L385.83,302.86 L386.64,303.22 L387.44,303.56 L388.21,303.89 L388.97,304.22 L389.71,304.54 L390.45,304.86 L391.17,305.17 L391.89,305.48 L392.61,305.79 L393.32,306.09 L394.03,306.40 L394.75,306.71 L395.46,307.02 L396.19,307.33 L396.93,307.65 L397.67,307.98 L398.43,308.31 L399.21,308.65 L400.00,309.00 L400.94,309.42 L401.88,309.84 L402.85,310.28 L403.82,310.72 L404.80,311.17 L405.79,311.62 L406.78,312.08 L407.79,312.54 L408.80,313.00 L409.81,313.47 L410.83,313.94 L411.85,314.40 L412.87,314.87 L413.90,315.33 L414.92,315.79 L415.94,316.25 L416.96,316.70 L417.98,317.14 L418.99,317.57 L420.00,318.00 L420.99,318.42 L421.99,318.83 L422.99,319.24 L423.98,319.65 L424.98,320.06 L425.98,320.46 L426.98,320.86 L427.97,321.26 L428.97,321.66 L429.97,322.05 L430.97,322.44 L431.97,322.83 L432.98,323.21 L433.98,323.59 L434.98,323.97 L435.98,324.34 L436.99,324.71 L437.99,325.08 L438.99,325.44 L440.00,325.80 L440.99,326.15 L441.99,326.50 L442.99,326.84 L443.98,327.18 L444.98,327.52 L445.98,327.85 L446.98,328.18 L447.98,328.51 L448.98,328.83 L449.98,329.15 L450.98,329.47 L451.98,329.78 L452.98,330.09 L453.98,330.40 L454.98,330.71 L455.99,331.01 L456.99,331.31 L457.99,331.61 L459.00,331.91 L460.00,332.20 L461.00,332.49 L461.99,332.78 L462.99,333.07 L463.99,333.35 L464.99,333.63 L465.98,333.91 L466.98,334.19 L467.98,334.47 L468.98,334.74 L469.98,335.01 L470.98,335.27 L471.98,335.54 L472.98,335.80 L473.98,336.05 L474.99,336.30 L475.99,336.55 L476.99,336.79 L477.99,337.03 L479.00,337.27 L480.00,337.50 L481.00,337.72 L481.99,337.94 L482.99,338.16 L483.99,338.37 L484.99,338.57 L485.99,338.77 L486.99,338.97 L487.98,339.17 L488.98,339.36 L489.99,339.55 L490.99,339.73 L491.99,339.91 L492.99,340.09 L493.99,340.27 L494.99,340.45 L495.99,340.62 L496.99,340.79 L498.00,340.96 L499.00,341.13 L500.00,341.30 L501.00,341.47 L502.00,341.63 L503.00,341.79 L503.99,341.94 L504.99,342.10 L505.99,342.25 L506.99,342.40 L507.99,342.55 L508.99,342.69 L509.99,342.84 L510.99,342.98 L511.99,343.12 L512.99,343.26 L514.00,343.39 L515.00,343.53 L516.00,343.67 L517.00,343.80 L518.00,343.93 L519.00,344.07 L520.00,344.20 L521.00,344.33 L521.98,344.46 L522.97,344.60 L523.95,344.73 L524.93,344.86 L525.90,344.98 L526.88,345.11 L527.85,345.24 L528.83,345.36 L529.81,345.48 L530.79,345.61 L531.78,345.73 L532.77,345.84 L533.77,345.96 L534.78,346.07 L535.80,346.18 L536.83,346.29 L537.88,346.40 L538.93,346.50 L540.00,346.60 L541.25,346.71 L542.52,346.82 L543.80,346.93 L545.09,347.04 L546.40,347.14 L547.71,347.24 L549.04,347.33 L550.37,347.43 L551.72,347.52 L553.07,347.61 L554.44,347.69 L555.81,347.77 L557.18,347.85 L558.57,347.93 L559.96,348.00 L561.36,348.07 L562.76,348.13 L564.17,348.19 L565.58,348.25 L567.00,348.30 L568.58,348.35 L570.18,348.40 L571.80,348.44 L573.44,348.47 L575.09,348.50 L576.75,348.52 L578.43,348.54 L580.11,348.55 L581.80,348.56 L583.49,348.57 L585.18,348.57 L586.86,348.57 L588.55,348.58 L590.22,348.58 L591.89,348.58 L593.55,348.58 L595.19,348.58 L596.81,348.59 L598.42,348.59 L600.00,348.60 L601.42,348.61 L602.83,348.62 L604.24,348.62 L605.63,348.63 L607.01,348.64 L608.38,348.64 L609.75,348.65 L611.11,348.65 L612.46,348.66 L613.81,348.66 L615.16,348.66 L616.50,348.67 L617.85,348.67 L619.19,348.68 L620.54,348.68 L621.88,348.68 L623.23,348.69 L624.58,348.69 L625.94,348.70 L627.30,348.70"/>
<path class="crv" d="M97.60,10.00 L97.72,11.25 L97.84,12.50 L97.95,13.75 L98.07,15.00 L98.19,16.25 L98.30,17.50 L98.42,18.75 L98.53,20.00 L98.65,21.25 L98.76,22.50 L98.88,23.75 L99.00,25.00 L99.12,26.25 L99.24,27.50 L99.36,28.75 L99.48,30.00 L99.61,31.25 L99.74,32.50 L99.87,33.75 L100.00,35.00 L100.14,36.25 L100.28,37.50 L100.42,38.75 L100.56,40.00 L100.71,41.25 L100.86,42.50 L101.01,43.75 L101.16,45.00 L101.31,46.25 L101.46,47.50 L101.62,48.75 L101.77,50.00 L101.93,51.25 L102.08,52.50 L102.24,53.75 L102.39,55.00 L102.54,56.25 L102.70,57.50 L102.85,58.75 L103.00,60.00 L103.15,61.25 L103.29,62.51 L103.42,63.78 L103.56,65.05 L103.69,66.32 L103.82,67.60 L103.94,68.87 L104.07,70.15 L104.20,71.42 L104.33,72.69 L104.47,73.96 L104.61,75.22 L104.75,76.47 L104.91,77.72 L105.06,78.96 L105.23,80.19 L105.41,81.41 L105.59,82.62 L105.79,83.82 L106.00,85.00 L106.20,86.06 L106.40,87.12 L106.60,88.17 L106.81,89.21 L107.03,90.26 L107.25,91.29 L107.47,92.32 L107.70,93.34 L107.94,94.36 L108.18,95.37 L108.43,96.37 L108.68,97.37 L108.94,98.35 L109.21,99.33 L109.49,100.30 L109.78,101.26 L110.07,102.21 L110.37,103.15 L110.68,104.08 L111.00,105.00 L111.29,105.81 L111.60,106.60 L111.91,107.38 L112.22,108.15 L112.54,108.91 L112.87,109.65 L113.21,110.39 L113.55,111.12 L113.90,111.85 L114.25,112.57 L114.60,113.30 L114.97,114.02 L115.33,114.74 L115.70,115.47 L116.08,116.20 L116.46,116.94 L116.84,117.69 L117.22,118.45 L117.61,119.22 L118.00,120.00 L118.45,120.91 L118.90,121.85 L119.36,122.82 L119.83,123.80 L120.30,124.80 L120.78,125.81 L121.26,126.83 L121.75,127.85 L122.25,128.87 L122.75,129.89 L123.25,130.90 L123.76,131.90 L124.27,132.88 L124.79,133.84 L125.32,134.78 L125.84,135.70 L126.38,136.58 L126.91,137.43 L127.45,138.23 L128.00,139.00 L128.43,139.56 L128.86,140.09 L129.30,140.60 L129.74,141.08 L130.19,141.55 L130.64,142.00 L131.09,142.43 L131.55,142.86 L132.01,143.27 L132.47,143.68 L132.93,144.09 L133.39,144.49 L133.86,144.90 L134.31,145.31 L134.77,145.73 L135.23,146.15 L135.68,146.59 L136.12,147.04 L136.56,147.51 L137.00,148.00 L137.47,148.55 L137.93,149.10 L138.38,149.66 L138.84,150.23 L139.28,150.81 L139.73,151.39 L140.17,151.98 L140.61,152.58 L141.05,153.18 L141.49,153.79 L141.93,154.40 L142.37,155.01 L142.81,155.63 L143.26,156.25 L143.70,156.87 L144.15,157.49 L144.61,158.12 L145.07,158.74 L145.53,159.37 L146.00,160.00 L146.52,160.70 L147.05,161.41 L147.58,162.12 L148.11,162.85 L148.65,163.59 L149.19,164.32 L149.73,165.07 L150.27,165.81 L150.82,166.56 L151.37,167.31 L151.92,168.06 L152.48,168.80 L153.03,169.54 L153.59,170.28 L154.16,171.01 L154.72,171.73 L155.29,172.44 L155.86,173.14 L156.43,173.83 L157.00,174.50 L157.54,175.12 L158.09,175.74 L158.65,176.35 L159.21,176.96 L159.77,177.56 L160.34,178.16 L160.91,178.75 L161.48,179.34 L162.05,179.92 L162.63,180.50 L163.20,181.07 L163.77,181.64 L164.34,182.20 L164.91,182.76 L165.47,183.31 L166.03,183.86 L166.58,184.40 L167.13,184.94 L167.67,185.47 L168.20,186.00 L168.66,186.45 L169.11,186.90 L169.56,187.34 L170.01,187.78 L170.46,188.21 L170.90,188.64 L171.34,189.06 L171.78,189.48 L172.22,189.90 L172.65,190.31 L173.08,190.73 L173.51,191.14 L173.94,191.54 L174.37,191.95 L174.79,192.36 L175.22,192.77 L175.64,193.17 L176.06,193.58 L176.48,193.99 L176.90,194.40 L177.29,194.79 L177.67,195.18 L178.05,195.57 L178.42,195.97 L178.78,196.36 L179.14,196.76 L179.50,197.15 L179.86,197.55 L180.22,197.94 L180.58,198.33 L180.94,198.72 L181.31,199.10 L181.68,199.48 L182.05,199.86 L182.44,200.23 L182.83,200.60 L183.23,200.96 L183.64,201.31 L184.06,201.66 L184.50,202.00 L184.99,202.36 L185.51,202.71 L186.04,203.04 L186.59,203.37 L187.15,203.69 L187.72,204.00 L188.30,204.30 L188.89,204.60 L189.48,204.89 L190.07,205.19 L190.67,205.48 L191.26,205.77 L191.85,206.07 L192.44,206.37 L193.01,206.67 L193.58,206.98 L194.13,207.29 L194.67,207.62 L195.20,207.95 L195.70,208.30 L196.14,208.62 L196.57,208.95 L196.99,209.28 L197.39,209.62 L197.79,209.96 L198.18,210.30 L198.57,210.65 L198.95,211.00 L199.32,211.35 L199.70,211.70 L200.07,212.06 L200.44,212.42 L200.82,212.78 L201.19,213.14 L201.58,213.50 L201.96,213.86 L202.36,214.22 L202.76,214.58 L203.18,214.94 L203.60,215.30 L204.09,215.71 L204.58,216.12 L205.07,216.54 L205.57,216.96 L206.07,217.38 L206.57,217.81 L207.08,218.23 L207.60,218.66 L208.11,219.09 L208.64,219.52 L209.17,219.94 L209.70,220.37 L210.24,220.79 L210.79,221.21 L211.34,221.62 L211.90,222.03 L212.46,222.43 L213.03,222.83 L213.61,223.22 L214.20,223.60 L214.86,224.01 L215.54,224.41 L216.24,224.80 L216.96,225.18 L217.69,225.55 L218.44,225.92 L219.19,226.28 L219.95,226.64 L220.71,226.99 L221.47,227.35 L222.24,227.70 L223.00,228.05 L223.75,228.40 L224.49,228.76 L225.22,229.12 L225.94,229.48 L226.63,229.85 L227.31,230.23 L227.97,230.61 L228.60,231.00 L229.11,231.33 L229.60,231.67 L230.07,232.00 L230.54,232.34 L230.99,232.68 L231.43,233.02 L231.86,233.36 L232.29,233.71 L232.71,234.06 L233.13,234.40 L233.54,234.76 L233.96,235.11 L234.38,235.46 L234.80,235.82 L235.23,236.18 L235.66,236.54 L236.10,236.90 L236.56,237.26 L237.02,237.63 L237.50,238.00 L238.08,238.44 L238.67,238.88 L239.27,239.34 L239.89,239.80 L240.51,240.27 L241.15,240.74 L241.79,241.21 L242.43,241.69 L243.08,242.17 L243.73,242.65 L244.38,243.13 L245.03,243.60 L245.68,244.07 L246.32,244.54 L246.96,245.01 L247.59,245.46 L248.21,245.91 L248.82,246.35 L249.42,246.78 L250.00,247.20 L250.48,247.54 L250.96,247.88 L251.43,248.21 L251.89,248.53 L252.36,248.84 L252.81,249.16 L253.27,249.46 L253.72,249.77 L254.16,250.07 L254.61,250.37 L255.05,250.67 L255.49,250.97 L255.93,251.28 L256.37,251.58 L256.81,251.89 L257.24,252.20 L257.68,252.51 L258.12,252.84 L258.56,253.16 L259.00,253.50 L259.45,253.85 L259.90,254.21 L260.34,254.58 L260.79,254.95 L261.22,255.33 L261.66,255.71 L262.10,256.09 L262.53,256.48 L262.97,256.86 L263.40,257.25 L263.84,257.64 L264.28,258.03 L264.72,258.41 L265.16,258.79 L265.60,259.17 L266.05,259.55 L266.51,259.92 L266.97,260.29 L267.43,260.65 L267.90,261.00 L268.39,261.36 L268.88,261.71 L269.37,262.06 L269.87,262.40 L270.37,262.75 L270.87,263.09 L271.38,263.43 L271.88,263.76 L272.40,264.10 L272.91,264.43 L273.43,264.75 L273.95,265.08 L274.47,265.40 L275.00,265.72 L275.52,266.04 L276.05,266.36 L276.59,266.67 L277.12,266.98 L277.66,267.29 L278.20,267.60 L278.77,267.92 L279.34,268.23 L279.92,268.54 L280.51,268.84 L281.10,269.14 L281.69,269.44 L282.29,269.74 L282.89,270.03 L283.49,270.32 L284.10,270.61 L284.70,270.90 L285.30,271.19 L285.91,271.47 L286.50,271.76 L287.10,272.05 L287.69,272.33 L288.28,272.62 L288.86,272.91 L289.43,273.21 L290.00,273.50 L290.52,273.77 L291.02,274.04 L291.52,274.30 L292.01,274.56 L292.49,274.81 L292.97,275.07 L293.44,275.32 L293.91,275.57 L294.39,275.83 L294.86,276.09 L295.33,276.35 L295.81,276.61 L296.30,276.88 L296.79,277.16 L297.30,277.44 L297.81,277.73 L298.34,278.03 L298.87,278.34 L299.43,278.67 L300.00,279.00 L300.85,279.50 L301.73,280.03 L302.64,280.58 L303.58,281.15 L304.53,281.74 L305.51,282.35 L306.51,282.97 L307.52,283.61 L308.55,284.26 L309.59,284.91 L310.63,285.57 L311.68,286.24 L312.74,286.91 L313.79,287.58 L314.84,288.25 L315.89,288.91 L316.94,289.57 L317.97,290.23 L318.99,290.87 L320.00,291.50 L321.01,292.13 L322.03,292.78 L323.06,293.43 L324.10,294.10 L325.15,294.77 L326.20,295.45 L327.26,296.12 L328.31,296.80 L329.36,297.47 L330.41,298.14 L331.44,298.80 L332.47,299.45 L333.48,300.08 L334.48,300.71 L335.46,301.31 L336.42,301.90 L337.35,302.46 L338.26,303.00 L339.15,303.51 L340.00,304.00 L340.57,304.32 L341.12,304.62 L341.66,304.91 L342.18,305.18 L342.69,305.45 L343.19,305.71 L343.68,305.95 L344.16,306.19 L344.64,306.43 L345.12,306.66 L345.59,306.89 L346.06,307.12 L346.53,307.34 L347.01,307.57 L347.49,307.79 L347.97,308.02 L348.46,308.26 L348.96,308.50 L349.48,308.75 L350.00,309.00 L350.60,309.29 L351.20,309.59 L351.81,309.90 L352.43,310.21 L353.05,310.52 L353.68,310.84 L354.31,311.16 L354.94,311.48 L355.58,311.80 L356.22,312.12 L356.87,312.43 L357.51,312.74 L358.15,313.05 L358.79,313.36 L359.43,313.65 L360.07,313.94 L360.71,314.22 L361.34,314.49 L361.97,314.75 L362.60,315.00 L363.17,315.22 L363.74,315.43 L364.30,315.64 L364.86,315.84 L365.42,316.03 L365.97,316.22 L366.52,316.40 L367.08,316.58 L367.63,316.76 L368.18,316.93 L368.74,317.09 L369.30,317.26 L369.86,317.42 L370.43,317.58 L371.01,317.73 L371.59,317.89 L372.18,318.04 L372.78,318.19 L373.38,318.35 L374.00,318.50 L374.73,318.67 L375.46,318.83 L376.20,318.98 L376.94,319.13 L377.69,319.26 L378.44,319.39 L379.20,319.51 L379.97,319.64 L380.74,319.76 L381.53,319.88 L382.32,320.00 L383.12,320.13 L383.94,320.27 L384.76,320.41 L385.60,320.56 L386.45,320.72 L387.32,320.89 L388.20,321.08 L389.09,321.28 L390.00,321.50 L391.30,321.83 L392.66,322.20 L394.07,322.60 L395.52,323.02 L397.00,323.47 L398.52,323.94 L400.07,324.42 L401.63,324.92 L403.22,325.43 L404.81,325.95 L406.40,326.47 L407.99,326.99 L409.58,327.51 L411.15,328.03 L412.71,328.53 L414.24,329.02 L415.74,329.50 L417.20,329.96 L418.62,330.39 L420.00,330.80 L421.09,331.12 L422.15,331.43 L423.19,331.73 L424.21,332.03 L425.22,332.33 L426.21,332.62 L427.19,332.90 L428.17,333.18 L429.13,333.45 L430.09,333.72 L431.05,333.99 L432.01,334.26 L432.98,334.52 L433.95,334.78 L434.92,335.03 L435.91,335.29 L436.91,335.54 L437.92,335.80 L438.95,336.05 L440.00,336.30 L441.18,336.58 L442.36,336.85 L443.55,337.13 L444.74,337.40 L445.94,337.67 L447.14,337.94 L448.35,338.20 L449.57,338.46 L450.80,338.72 L452.04,338.98 L453.28,339.23 L454.54,339.48 L455.81,339.72 L457.08,339.96 L458.37,340.20 L459.67,340.43 L460.98,340.65 L462.31,340.87 L463.65,341.09 L465.00,341.30 L466.60,341.54 L468.21,341.77 L469.83,342.00 L471.46,342.21 L473.10,342.42 L474.75,342.63 L476.42,342.82 L478.11,343.01 L479.81,343.20 L481.53,343.38 L483.27,343.56 L485.03,343.73 L486.81,343.90 L488.61,344.06 L490.44,344.22 L492.30,344.38 L494.18,344.54 L496.09,344.70 L498.03,344.85 L500.00,345.00 L502.63,345.19 L505.33,345.38 L508.09,345.56 L510.91,345.74 L513.78,345.91 L516.70,346.07 L519.67,346.23 L522.67,346.38 L525.71,346.53 L528.77,346.67 L531.86,346.80 L534.97,346.93 L538.10,347.06 L541.24,347.18 L544.38,347.29 L547.52,347.40 L550.66,347.51 L553.79,347.61 L556.90,347.71 L560.00,347.80 L563.28,347.89 L566.57,347.97 L569.88,348.04 L573.21,348.10 L576.55,348.16 L579.90,348.20 L583.27,348.24 L586.64,348.28 L590.02,348.31 L593.41,348.34 L596.80,348.36 L600.19,348.39 L603.59,348.41 L606.99,348.43 L610.38,348.45 L613.78,348.48 L617.17,348.50 L620.55,348.53 L623.93,348.56 L627.30,348.60"/>
<path class="crv" d="M97.60,10.00 L97.75,11.51 L97.90,13.02 L98.04,14.54 L98.19,16.08 L98.34,17.61 L98.48,19.15 L98.63,20.69 L98.77,22.23 L98.92,23.76 L99.07,25.29 L99.21,26.82 L99.36,28.34 L99.51,29.85 L99.66,31.35 L99.81,32.83 L99.97,34.30 L100.12,35.75 L100.28,37.19 L100.44,38.61 L100.60,40.00 L100.74,41.19 L100.88,42.37 L101.02,43.54 L101.16,44.72 L101.30,45.88 L101.44,47.04 L101.59,48.19 L101.73,49.33 L101.88,50.46 L102.02,51.58 L102.17,52.69 L102.32,53.79 L102.47,54.87 L102.63,55.94 L102.78,56.99 L102.94,58.03 L103.10,59.05 L103.26,60.05 L103.43,61.04 L103.60,62.00 L103.73,62.73 L103.86,63.45 L103.99,64.16 L104.12,64.86 L104.25,65.54 L104.38,66.22 L104.51,66.89 L104.65,67.55 L104.78,68.20 L104.92,68.84 L105.06,69.48 L105.20,70.11 L105.34,70.74 L105.49,71.36 L105.65,71.97 L105.81,72.58 L105.97,73.19 L106.14,73.80 L106.32,74.40 L106.50,75.00 L106.67,75.54 L106.84,76.07 L107.02,76.60 L107.20,77.12 L107.39,77.64 L107.58,78.15 L107.78,78.66 L107.97,79.16 L108.17,79.67 L108.37,80.16 L108.58,80.66 L108.79,81.15 L109.00,81.64 L109.21,82.12 L109.42,82.61 L109.63,83.09 L109.85,83.57 L110.07,84.05 L110.28,84.52 L110.50,85.00 L110.71,85.44 L110.91,85.88 L111.12,86.32 L111.34,86.75 L111.55,87.18 L111.76,87.60 L111.98,88.02 L112.20,88.44 L112.42,88.86 L112.64,89.27 L112.86,89.69 L113.09,90.10 L113.31,90.52 L113.53,90.94 L113.76,91.36 L113.99,91.78 L114.21,92.20 L114.44,92.63 L114.67,93.06 L114.90,93.50 L115.15,93.97 L115.39,94.45 L115.64,94.92 L115.90,95.40 L116.15,95.89 L116.41,96.37 L116.66,96.86 L116.92,97.34 L117.18,97.83 L117.44,98.32 L117.70,98.81 L117.95,99.30 L118.21,99.79 L118.47,100.28 L118.73,100.77 L118.99,101.26 L119.24,101.75 L119.50,102.23 L119.75,102.72 L120.00,103.20 L120.24,103.67 L120.48,104.14 L120.71,104.61 L120.94,105.09 L121.17,105.56 L121.39,106.03 L121.61,106.51 L121.84,106.98 L122.06,107.45 L122.29,107.92 L122.51,108.39 L122.74,108.86 L122.98,109.33 L123.22,109.79 L123.46,110.25 L123.71,110.71 L123.97,111.16 L124.24,111.61 L124.52,112.06 L124.80,112.50 L125.10,112.95 L125.42,113.39 L125.75,113.83 L126.09,114.27 L126.44,114.70 L126.80,115.13 L127.16,115.56 L127.53,115.98 L127.90,116.40 L128.27,116.82 L128.64,117.24 L129.01,117.66 L129.38,118.07 L129.75,118.49 L130.11,118.90 L130.47,119.32 L130.82,119.74 L131.16,120.16 L131.48,120.58 L131.80,121.00 L132.08,121.38 L132.35,121.77 L132.61,122.15 L132.87,122.53 L133.12,122.90 L133.37,123.28 L133.61,123.65 L133.85,124.03 L134.09,124.40 L134.33,124.78 L134.56,125.16 L134.80,125.54 L135.04,125.92 L135.28,126.31 L135.52,126.70 L135.76,127.09 L136.01,127.48 L136.27,127.88 L136.53,128.29 L136.80,128.70 L137.12,129.19 L137.44,129.69 L137.77,130.21 L138.10,130.73 L138.43,131.26 L138.77,131.79 L139.11,132.33 L139.45,132.87 L139.80,133.42 L140.15,133.96 L140.50,134.51 L140.85,135.05 L141.21,135.60 L141.57,136.13 L141.93,136.66 L142.30,137.19 L142.67,137.71 L143.04,138.22 L143.42,138.71 L143.80,139.20 L144.16,139.65 L144.53,140.09 L144.91,140.53 L145.28,140.96 L145.66,141.38 L146.05,141.80 L146.44,142.21 L146.83,142.62 L147.22,143.03 L147.61,143.43 L148.01,143.83 L148.41,144.23 L148.81,144.63 L149.20,145.04 L149.60,145.44 L150.00,145.84 L150.40,146.25 L150.80,146.66 L151.20,147.08 L151.60,147.50 L152.01,147.94 L152.43,148.39 L152.85,148.84 L153.27,149.29 L153.69,149.74 L154.11,150.20 L154.53,150.65 L154.95,151.11 L155.38,151.57 L155.80,152.03 L156.22,152.48 L156.65,152.94 L157.07,153.39 L157.49,153.85 L157.91,154.30 L158.33,154.75 L158.75,155.19 L159.17,155.63 L159.59,156.07 L160.00,156.50 L160.38,156.90 L160.77,157.30 L161.15,157.69 L161.52,158.08 L161.90,158.47 L162.27,158.85 L162.64,159.23 L163.01,159.61 L163.38,159.99 L163.76,160.37 L164.13,160.75 L164.50,161.13 L164.88,161.51 L165.26,161.89 L165.64,162.27 L166.02,162.65 L166.41,163.03 L166.80,163.42 L167.20,163.81 L167.60,164.20 L168.04,164.63 L168.49,165.07 L168.94,165.51 L169.40,165.95 L169.86,166.40 L170.32,166.85 L170.79,167.29 L171.26,167.74 L171.73,168.20 L172.21,168.65 L172.68,169.09 L173.16,169.54 L173.64,169.99 L174.12,170.43 L174.60,170.87 L175.08,171.31 L175.56,171.74 L176.04,172.16 L176.52,172.59 L177.00,173.00 L177.46,173.40 L177.92,173.79 L178.39,174.18 L178.85,174.57 L179.31,174.96 L179.78,175.35 L180.24,175.73 L180.71,176.11 L181.18,176.49 L181.64,176.87 L182.11,177.24 L182.58,177.61 L183.05,177.97 L183.53,178.33 L184.00,178.69 L184.48,179.04 L184.96,179.39 L185.44,179.73 L185.92,180.07 L186.40,180.40 L186.87,180.72 L187.34,181.03 L187.81,181.34 L188.28,181.64 L188.76,181.94 L189.24,182.24 L189.72,182.53 L190.20,182.82 L190.68,183.10 L191.16,183.38 L191.64,183.66 L192.13,183.93 L192.61,184.21 L193.10,184.47 L193.58,184.74 L194.07,185.00 L194.55,185.25 L195.03,185.50 L195.52,185.75 L196.00,186.00 L196.46,186.23 L196.92,186.45 L197.39,186.67 L197.85,186.89 L198.32,187.10 L198.79,187.31 L199.26,187.51 L199.73,187.71 L200.20,187.91 L200.67,188.11 L201.13,188.30 L201.60,188.49 L202.06,188.68 L202.52,188.87 L202.98,189.06 L203.43,189.25 L203.88,189.43 L204.33,189.62 L204.77,189.81 L205.20,190.00 L205.58,190.16 L205.94,190.32 L206.30,190.48 L206.65,190.63 L206.99,190.77 L207.33,190.92 L207.66,191.06 L207.99,191.20 L208.32,191.34 L208.66,191.49 L208.99,191.63 L209.33,191.78 L209.68,191.94 L210.03,192.09 L210.40,192.26 L210.77,192.43 L211.16,192.61 L211.56,192.80 L211.97,192.99 L212.40,193.20 L213.14,193.56 L213.92,193.95 L214.73,194.37 L215.57,194.80 L216.45,195.26 L217.35,195.73 L218.27,196.22 L219.21,196.73 L220.18,197.24 L221.15,197.77 L222.14,198.30 L223.13,198.83 L224.13,199.37 L225.13,199.91 L226.13,200.44 L227.12,200.97 L228.11,201.49 L229.09,202.01 L230.05,202.51 L231.00,203.00 L231.94,203.48 L232.88,203.96 L233.82,204.44 L234.75,204.91 L235.69,205.38 L236.62,205.85 L237.56,206.31 L238.49,206.78 L239.43,207.25 L240.37,207.72 L241.31,208.18 L242.25,208.65 L243.20,209.12 L244.16,209.59 L245.12,210.07 L246.08,210.55 L247.05,211.03 L248.03,211.51 L249.01,212.00 L250.00,212.50 L251.10,213.05 L252.20,213.61 L253.31,214.17 L254.42,214.74 L255.54,215.31 L256.67,215.89 L257.80,216.47 L258.94,217.06 L260.08,217.64 L261.23,218.23 L262.38,218.81 L263.54,219.40 L264.70,219.98 L265.87,220.57 L267.04,221.15 L268.22,221.73 L269.41,222.30 L270.60,222.87 L271.80,223.44 L273.00,224.00 L274.30,224.59 L275.62,225.19 L276.95,225.78 L278.31,226.37 L279.67,226.96 L281.05,227.55 L282.43,228.13 L283.82,228.71 L285.21,229.30 L286.60,229.87 L287.99,230.45 L289.38,231.02 L290.76,231.59 L292.13,232.16 L293.48,232.73 L294.83,233.29 L296.15,233.85 L297.46,234.40 L298.74,234.95 L300.00,235.50 L301.07,235.97 L302.13,236.44 L303.17,236.90 L304.20,237.36 L305.22,237.81 L306.23,238.26 L307.23,238.71 L308.22,239.16 L309.21,239.61 L310.19,240.05 L311.17,240.50 L312.15,240.94 L313.12,241.38 L314.10,241.83 L315.07,242.27 L316.05,242.71 L317.03,243.16 L318.01,243.60 L319.00,244.05 L320.00,244.50 L321.00,244.95 L322.00,245.40 L323.00,245.85 L324.00,246.31 L325.00,246.76 L326.00,247.21 L327.00,247.67 L328.00,248.12 L328.99,248.58 L329.99,249.03 L330.99,249.48 L331.99,249.93 L332.99,250.38 L333.99,250.83 L334.99,251.28 L335.99,251.73 L337.00,252.18 L338.00,252.62 L339.00,253.06 L340.00,253.50 L341.00,253.94 L342.00,254.37 L342.99,254.80 L343.99,255.24 L344.99,255.67 L345.99,256.10 L346.99,256.53 L347.99,256.96 L348.99,257.38 L349.99,257.81 L350.99,258.23 L351.99,258.66 L352.99,259.08 L353.99,259.50 L354.99,259.92 L355.99,260.34 L356.99,260.75 L358.00,261.17 L359.00,261.59 L360.00,262.00 L361.00,262.41 L362.00,262.82 L362.99,263.23 L363.99,263.64 L364.99,264.04 L365.99,264.45 L366.99,264.85 L367.99,265.25 L368.99,265.65 L369.99,266.05 L370.99,266.45 L371.99,266.85 L372.99,267.25 L373.99,267.64 L374.99,268.04 L375.99,268.43 L377.00,268.82 L378.00,269.22 L379.00,269.61 L380.00,270.00 L381.00,270.39 L382.00,270.78 L383.00,271.16 L384.00,271.55 L384.99,271.93 L385.99,272.31 L386.99,272.70 L387.99,273.08 L388.99,273.46 L389.99,273.84 L390.99,274.21 L391.99,274.59 L392.99,274.97 L394.00,275.35 L395.00,275.72 L396.00,276.10 L397.00,276.47 L398.00,276.85 L399.00,277.22 L400.00,277.60 L401.00,277.97 L402.00,278.35 L403.00,278.72 L404.00,279.09 L405.00,279.47 L406.00,279.84 L407.00,280.21 L408.00,280.58 L409.00,280.95 L410.00,281.32 L411.00,281.69 L412.00,282.06 L413.00,282.42 L414.00,282.79 L415.00,283.16 L416.00,283.53 L417.00,283.90 L418.00,284.26 L419.00,284.63 L420.00,285.00 L421.00,285.37 L422.00,285.73 L423.00,286.09 L424.00,286.46 L425.00,286.82 L426.00,287.18 L427.00,287.54 L428.00,287.90 L429.01,288.26 L430.01,288.62 L431.01,288.98 L432.01,289.34 L433.01,289.70 L434.01,290.07 L435.01,290.43 L436.01,290.80 L437.01,291.17 L438.00,291.54 L439.00,291.92 L440.00,292.30 L441.00,292.69 L442.00,293.08 L443.00,293.47 L444.00,293.87 L445.00,294.28 L446.00,294.68 L447.00,295.09 L448.00,295.50 L449.00,295.91 L450.00,296.32 L450.99,296.73 L451.99,297.14 L452.99,297.55 L453.99,297.96 L454.99,298.36 L455.99,298.76 L456.99,299.15 L457.99,299.54 L459.00,299.92 L460.00,300.30 L461.00,300.67 L461.99,301.04 L462.99,301.40 L463.99,301.76 L464.98,302.12 L465.98,302.48 L466.98,302.83 L467.98,303.18 L468.98,303.53 L469.98,303.88 L470.98,304.22 L471.98,304.57 L472.98,304.90 L473.98,305.24 L474.98,305.57 L475.99,305.90 L476.99,306.23 L477.99,306.56 L479.00,306.88 L480.00,307.20 L481.00,307.51 L481.99,307.82 L482.99,308.13 L483.99,308.43 L484.99,308.73 L485.99,309.03 L486.99,309.33 L487.99,309.62 L488.99,309.91 L489.99,310.20 L490.99,310.48 L491.99,310.76 L492.99,311.05 L493.99,311.33 L494.99,311.61 L495.99,311.89 L496.99,312.17 L498.00,312.44 L499.00,312.72 L500.00,313.00 L501.00,313.28 L502.00,313.55 L503.00,313.83 L503.99,314.10 L504.99,314.37 L505.99,314.64 L506.99,314.91 L507.99,315.18 L508.99,315.45 L509.99,315.72 L510.99,315.98 L511.99,316.25 L512.99,316.51 L513.99,316.77 L514.99,317.03 L515.99,317.29 L517.00,317.54 L518.00,317.80 L519.00,318.05 L520.00,318.30 L521.00,318.55 L522.00,318.79 L523.00,319.03 L524.00,319.27 L525.00,319.51 L526.00,319.74 L527.00,319.98 L528.00,320.21 L529.00,320.44 L530.00,320.67 L531.00,320.90 L532.00,321.13 L533.00,321.36 L534.00,321.59 L535.00,321.82 L536.00,322.05 L537.00,322.28 L538.00,322.52 L539.00,322.76 L540.00,323.00 L541.00,323.24 L542.00,323.49 L543.00,323.73 L544.00,323.97 L545.00,324.22 L546.00,324.46 L547.01,324.71 L548.01,324.95 L549.01,325.20 L550.01,325.45 L551.01,325.69 L552.01,325.94 L553.01,326.20 L554.01,326.45 L555.01,326.70 L556.01,326.96 L557.00,327.22 L558.00,327.48 L559.00,327.74 L560.00,328.00 L561.00,328.27 L562.00,328.54 L563.00,328.81 L564.00,329.08 L565.01,329.36 L566.01,329.63 L567.01,329.91 L568.01,330.19 L569.01,330.47 L570.01,330.76 L571.01,331.04 L572.00,331.33 L573.00,331.61 L574.00,331.89 L575.00,332.18 L576.00,332.46 L577.00,332.75 L578.00,333.03 L579.00,333.32 L580.00,333.60 L581.00,333.89 L581.98,334.18 L582.97,334.48 L583.94,334.78 L584.92,335.09 L585.89,335.40 L586.86,335.71 L587.83,336.02 L588.81,336.33 L589.78,336.64 L590.76,336.94 L591.75,337.24 L592.74,337.53 L593.74,337.82 L594.75,338.09 L595.78,338.36 L596.81,338.61 L597.86,338.86 L598.92,339.09 L600.00,339.30 L601.26,339.53 L602.54,339.74 L603.84,339.93 L605.16,340.10 L606.50,340.26 L607.85,340.41 L609.21,340.55 L610.59,340.68 L611.97,340.79 L613.36,340.91 L614.76,341.01 L616.16,341.12 L617.56,341.22 L618.96,341.32 L620.37,341.42 L621.77,341.53 L623.16,341.63 L624.55,341.75 L625.93,341.87 L627.30,342.00"/>
<path d="M380.00,270.10 L381.00,270.47 L382.00,270.84 L383.00,271.20 L384.00,271.57 L385.00,271.93 L386.01,272.29 L387.01,272.65 L388.01,273.02 L389.01,273.38 L390.01,273.74 L391.01,274.11 L392.01,274.47 L393.01,274.84 L394.01,275.21 L395.01,275.58 L396.01,275.96 L397.01,276.34 L398.01,276.72 L399.00,277.11 L400.00,277.50 L401.00,277.90 L402.01,278.30 L403.01,278.71 L404.01,279.13 L405.01,279.54 L406.01,279.96 L407.01,280.39 L408.01,280.81 L409.01,281.24 L410.01,281.66 L411.00,282.09 L412.00,282.52 L413.00,282.95 L414.00,283.38 L415.00,283.80 L416.00,284.23 L417.00,284.65 L418.00,285.07 L419.00,285.49 L420.00,285.90 L421.00,286.31 L422.00,286.72 L423.00,287.12 L423.99,287.53 L424.99,287.93 L425.99,288.33 L426.99,288.73 L427.99,289.14 L428.99,289.54 L429.99,289.93 L430.99,290.33 L431.99,290.73 L432.99,291.13 L434.00,291.53 L435.00,291.92 L436.00,292.32 L437.00,292.71 L438.00,293.11 L439.00,293.50 L440.00,293.90 L441.00,294.29 L442.00,294.69 L443.00,295.09 L444.00,295.48 L445.00,295.88 L445.99,296.27 L446.99,296.67 L447.99,297.06 L448.99,297.45 L449.99,297.85 L450.99,298.24 L451.99,298.63 L452.99,299.02 L453.99,299.41 L454.99,299.79 L455.99,300.18 L456.99,300.56 L458.00,300.94 L459.00,301.32 L460.00,301.70 L461.00,302.07 L461.99,302.45 L462.99,302.83 L463.99,303.21 L464.99,303.58 L465.98,303.96 L466.98,304.33 L467.98,304.71 L468.98,305.08 L469.98,305.45 L470.98,305.82 L471.98,306.18 L472.98,306.54 L473.98,306.89 L474.98,307.24 L475.98,307.59 L476.98,307.93 L477.99,308.26 L478.99,308.58 L480.00,308.90 L480.99,309.21 L481.99,309.51 L482.98,309.80 L483.98,310.09 L484.98,310.37 L485.98,310.65 L486.98,310.92 L487.98,311.19 L488.98,311.46 L489.98,311.72 L490.98,311.97 L491.98,312.23 L492.98,312.48 L493.98,312.73 L494.99,312.98 L495.99,313.22 L496.99,313.47 L497.99,313.71 L499.00,313.96 L500.00,314.20 L501.00,314.44 L502.00,314.67 L502.99,314.90 L503.99,315.13 L504.99,315.35 L505.99,315.57 L506.99,315.79 L507.99,316.00 L509.00,316.22 L510.00,316.43 L511.00,316.64 L512.00,316.85 L513.00,317.07 L514.00,317.28 L515.00,317.49 L516.00,317.71 L517.00,317.93 L518.00,318.15 L519.00,318.37 L520.00,318.60 L521.00,318.83 L522.00,319.07 L523.00,319.31 L524.00,319.55 L525.00,319.79 L526.00,320.04 L527.00,320.28 L528.00,320.53 L529.00,320.78 L530.00,321.02 L531.00,321.27 L532.00,321.52 L533.00,321.76 L534.00,322.01 L535.00,322.25 L536.00,322.48 L537.00,322.72 L538.00,322.95 L539.00,323.18 L540.00,323.40 L541.00,323.62 L542.00,323.83 L543.00,324.04 L544.00,324.24 L545.00,324.44 L546.00,324.64 L547.00,324.84 L548.00,325.03 L549.00,325.23 L550.00,325.42 L551.00,325.61 L552.00,325.80 L553.00,325.99 L554.00,326.19 L555.00,326.38 L556.00,326.58 L557.00,326.78 L558.00,326.98 L559.00,327.19 L560.00,327.40 L561.00,327.61 L562.00,327.83 L563.01,328.05 L564.01,328.27 L565.01,328.49 L566.02,328.72 L567.02,328.94 L568.02,329.17 L569.03,329.40 L570.03,329.63 L571.03,329.86 L572.03,330.08 L573.03,330.31 L574.03,330.54 L575.03,330.77 L576.03,331.00 L577.02,331.23 L578.02,331.45 L579.01,331.68 L580.00,331.90 L580.97,332.12 L581.94,332.33 L582.90,332.55 L583.86,332.77 L584.83,332.98 L585.79,333.20 L586.75,333.41 L587.71,333.63 L588.67,333.84 L589.62,334.06 L590.58,334.27 L591.54,334.49 L592.50,334.70 L593.45,334.91 L594.41,335.13 L595.37,335.34 L596.32,335.56 L597.28,335.77 L598.24,335.99 L599.20,336.20" style="fill:none;stroke:#120c1c;stroke-width:3.40;stroke-linejoin:round;stroke-linecap:round"/>
<path class="rd" d="M137.80,190.30 L144.70,197.80 L137.80,205.30 L130.90,197.80 Z"/>
<path class="rd" d="M146.40,200.10 L153.30,207.60 L146.40,215.10 L139.50,207.60 Z"/>
<path class="rd" d="M150.60,203.70 L157.50,211.20 L150.60,218.70 L143.70,211.20 Z"/>
<path class="rd" d="M154.80,208.26 L161.70,215.76 L154.80,223.26 L147.90,215.76 Z"/>
<path class="rd" d="M159.00,213.65 L165.90,221.15 L159.00,228.65 L152.10,221.15 Z"/>
<path class="rd" d="M163.20,218.33 L170.10,225.83 L163.20,233.33 L156.30,225.83 Z"/>
<path class="rd" d="M167.40,222.84 L174.30,230.34 L167.40,237.84 L160.50,230.34 Z"/>
<path class="rd" d="M171.60,227.08 L178.50,234.58 L171.60,242.08 L164.70,234.58 Z"/>
<path class="rd" d="M175.80,230.91 L182.70,238.41 L175.80,245.91 L168.90,238.41 Z"/>
<path class="rd" d="M180.00,235.38 L186.90,242.88 L180.00,250.38 L173.10,242.88 Z"/>
<path class="rd" d="M183.00,238.90 L189.90,246.40 L183.00,253.90 L176.10,246.40 Z"/>
<path class="rd" d="M186.33,242.37 L193.23,249.87 L186.33,257.37 L179.43,249.87 Z"/>
<path class="rd" d="M189.67,245.59 L196.57,253.09 L189.67,260.59 L182.77,253.09 Z"/>
<path class="rd" d="M193.00,248.50 L199.90,256.00 L193.00,263.50 L186.10,256.00 Z"/>
<path class="rd" d="M196.33,251.13 L203.23,258.63 L196.33,266.13 L189.43,258.63 Z"/>
<path class="rd" d="M199.67,253.67 L206.57,261.17 L199.67,268.67 L192.77,261.17 Z"/>
<path class="rd" d="M203.00,256.18 L209.90,263.68 L203.00,271.18 L196.10,263.68 Z"/>
<path class="rd3" d="M206.30,258.59 L213.20,266.09 L206.30,273.59 L199.40,266.09 Z"/>
<path class="rd3" d="M209.40,260.86 L216.30,268.36 L209.40,275.86 L202.50,268.36 Z"/>
<path class="rd3" d="M212.50,263.15 L219.40,270.65 L212.50,278.15 L205.60,270.65 Z"/>
<path class="rd3" d="M215.60,265.45 L222.50,272.95 L215.60,280.45 L208.70,272.95 Z"/>
<path class="rd3" d="M218.70,267.74 L225.60,275.24 L218.70,282.74 L211.80,275.24 Z"/>
<path class="rd3" d="M221.80,270.01 L228.70,277.51 L221.80,285.01 L214.90,277.51 Z"/>
<path class="rd3" d="M224.90,272.26 L231.80,279.76 L224.90,287.26 L218.00,279.76 Z"/>
<path class="rd3" d="M228.00,274.55 L234.90,282.05 L228.00,289.55 L221.10,282.05 Z"/>
<path class="rd2" d="M229.80,275.92 L236.70,283.42 L229.80,290.92 L222.90,283.42 Z"/>
<path class="rd2" d="M231.58,277.30 L238.48,284.80 L231.58,292.30 L224.68,284.80 Z"/>
<path class="rd2" d="M233.35,278.70 L240.25,286.20 L233.35,293.70 L226.45,286.20 Z"/>
<path class="rd2" d="M235.13,280.12 L242.03,287.62 L235.13,295.12 L228.23,287.62 Z"/>
<path class="rd2" d="M236.91,281.53 L243.81,289.03 L236.91,296.53 L230.01,289.03 Z"/>
<path class="rd2" d="M238.68,282.95 L245.58,290.45 L238.68,297.95 L231.78,290.45 Z"/>
<path class="rd2" d="M240.46,284.37 L247.36,291.87 L240.46,299.37 L233.56,291.87 Z"/>
<path class="rd2" d="M242.24,285.80 L249.14,293.30 L242.24,300.80 L235.34,293.30 Z"/>
<path class="rd2" d="M244.02,287.25 L250.92,294.75 L244.02,302.25 L237.12,294.75 Z"/>
<path class="rd2" d="M245.79,288.70 L252.69,296.20 L245.79,303.70 L238.89,296.20 Z"/>
<path class="rd2" d="M247.57,290.13 L254.47,297.63 L247.57,305.13 L240.67,297.63 Z"/>
<path class="rd2" d="M249.35,291.51 L256.25,299.01 L249.35,306.51 L242.45,299.01 Z"/>
<path class="rd2" d="M251.12,292.83 L258.02,300.33 L251.12,307.83 L244.22,300.33 Z"/>
<path class="rd2" d="M252.90,294.12 L259.80,301.62 L252.90,309.12 L246.00,301.62 Z"/>
<path class="rd2" d="M254.68,295.38 L261.58,302.88 L254.68,310.38 L247.78,302.88 Z"/>
<path class="rd2" d="M256.45,296.61 L263.35,304.11 L256.45,311.61 L249.55,304.11 Z"/>
<path class="rd2" d="M258.23,297.82 L265.13,305.32 L258.23,312.82 L251.33,305.32 Z"/>
<path class="rd2" d="M260.01,299.01 L266.91,306.51 L260.01,314.01 L253.11,306.51 Z"/>
<path class="rd2" d="M261.78,300.17 L268.68,307.67 L261.78,315.17 L254.88,307.67 Z"/>
<path class="rd2" d="M263.56,301.32 L270.46,308.82 L263.56,316.32 L256.66,308.82 Z"/>
<path class="rd2" d="M265.34,302.44 L272.24,309.94 L265.34,317.44 L258.44,309.94 Z"/>
<path class="rd2" d="M267.12,303.55 L274.02,311.05 L267.12,318.55 L260.22,311.05 Z"/>
<path class="rd2" d="M268.89,304.63 L275.79,312.13 L268.89,319.63 L261.99,312.13 Z"/>
<path class="rd2" d="M270.67,305.70 L277.57,313.20 L270.67,320.70 L263.77,313.20 Z"/>
<path class="rd2" d="M272.45,306.71 L279.35,314.21 L272.45,321.71 L265.55,314.21 Z"/>
<path class="rd2" d="M274.22,307.70 L281.12,315.20 L274.22,322.70 L267.32,315.20 Z"/>
<path class="rd2" d="M276.00,308.70 L282.90,316.20 L276.00,323.70 L269.10,316.20 Z"/>
<path class="rd" d="M281.70,311.90 L288.60,319.40 L281.70,326.90 L274.80,319.40 Z"/>
<path class="rd" d="M298.80,314.50 L305.70,322.00 L298.80,329.50 L291.90,322.00 Z"/>
<path class="rd" d="M302.34,315.94 L309.24,323.44 L302.34,330.94 L295.44,323.44 Z"/>
<path class="rd" d="M305.88,317.38 L312.78,324.88 L305.88,332.38 L298.98,324.88 Z"/>
<path class="rd" d="M309.42,318.83 L316.32,326.33 L309.42,333.83 L302.52,326.33 Z"/>
<path class="rd" d="M312.95,320.26 L319.85,327.76 L312.95,335.26 L306.05,327.76 Z"/>
<path class="rd" d="M316.49,321.67 L323.39,329.17 L316.49,336.67 L309.59,329.17 Z"/>
<path class="rd" d="M320.03,323.06 L326.93,330.56 L320.03,338.06 L313.13,330.56 Z"/>
<path class="rd" d="M323.57,324.46 L330.47,331.96 L323.57,339.46 L316.67,331.96 Z"/>
<path class="rd" d="M327.11,325.85 L334.01,333.35 L327.11,340.85 L320.21,333.35 Z"/>
<path class="rd" d="M330.65,327.21 L337.55,334.71 L330.65,342.21 L323.75,334.71 Z"/>
<path class="rd" d="M334.19,328.49 L341.09,335.99 L334.19,343.49 L327.29,335.99 Z"/>
<path class="rd" d="M337.73,329.67 L344.63,337.17 L337.73,344.67 L330.83,337.17 Z"/>
<path class="rd" d="M341.26,330.77 L348.16,338.27 L341.26,345.77 L334.36,338.27 Z"/>
<path class="rd" d="M344.80,331.79 L351.70,339.29 L344.80,346.79 L337.90,339.29 Z"/>
<path class="rd" d="M348.34,332.75 L355.24,340.25 L348.34,347.75 L341.44,340.25 Z"/>
<path class="rd" d="M351.88,333.63 L358.78,341.13 L351.88,348.63 L344.98,341.13 Z"/>
<path class="rd" d="M355.42,334.42 L362.32,341.92 L355.42,349.42 L348.52,341.92 Z"/>
<path class="rd" d="M358.96,335.12 L365.86,342.62 L358.96,350.12 L352.06,342.62 Z"/>
<path class="rd" d="M362.50,335.72 L369.40,343.22 L362.50,350.72 L355.60,343.22 Z"/>
<path class="rd" d="M366.04,336.25 L372.94,343.75 L366.04,351.25 L359.14,343.75 Z"/>
<path class="rd" d="M369.57,336.72 L376.47,344.22 L369.57,351.72 L362.67,344.22 Z"/>
<path class="rd" d="M373.11,337.15 L380.01,344.65 L373.11,352.15 L366.21,344.65 Z"/>
<path class="rd" d="M376.65,337.56 L383.55,345.06 L376.65,352.56 L369.75,345.06 Z"/>
<path class="rd" d="M380.19,337.95 L387.09,345.45 L380.19,352.95 L373.29,345.45 Z"/>
<path class="rd" d="M383.73,338.29 L390.63,345.79 L383.73,353.29 L376.83,345.79 Z"/>
<path class="rd" d="M387.27,338.57 L394.17,346.07 L387.27,353.57 L380.37,346.07 Z"/>
<path class="rd" d="M390.81,338.75 L397.71,346.25 L390.81,353.75 L383.91,346.25 Z"/>
<path class="rd" d="M394.35,338.80 L401.25,346.30 L394.35,353.80 L387.45,346.30 Z"/>
<path class="rd" d="M397.88,338.68 L404.78,346.18 L397.88,353.68 L390.98,346.18 Z"/>
<path class="rd" d="M401.42,338.44 L408.32,345.94 L401.42,353.44 L394.52,345.94 Z"/>
<path class="rd" d="M404.96,338.14 L411.86,345.64 L404.96,353.14 L398.06,345.64 Z"/>
<path class="rd" d="M408.50,337.86 L415.40,345.36 L408.50,352.86 L401.60,345.36 Z"/>
<path class="gr" d="M111.00,79.55 L114.90,86.73 L107.10,86.73 Z"/>
<path class="gr" d="M136.50,154.55 L140.40,161.73 L132.60,161.73 Z"/>
<path class="gr" d="M141.50,164.05 L145.40,171.23 L137.60,171.23 Z"/>
<path class="gr" d="M147.80,167.65 L151.70,174.83 L143.90,174.83 Z"/>
<path class="gr" d="M150.70,176.05 L154.60,183.23 L146.80,183.23 Z"/>
<path class="gr" d="M157.00,180.05 L160.90,187.23 L153.10,187.23 Z"/>
<path class="gr" d="M163.50,184.55 L167.40,191.73 L159.60,191.73 Z"/>
<path class="gr" d="M167.80,189.55 L171.70,196.73 L163.90,196.73 Z"/>
<path class="gr" d="M171.80,193.05 L175.70,200.23 L167.90,200.23 Z"/>
<path class="gr" d="M180.00,198.55 L183.90,205.73 L176.10,205.73 Z"/>
<path class="gr" d="M188.50,203.55 L192.40,210.73 L184.60,210.73 Z"/>
<path class="gr" d="M197.00,208.55 L200.90,215.73 L193.10,215.73 Z"/>
<path class="gr" d="M205.00,214.54 L210.40,224.47 L199.60,224.47 Z"/>
<path class="gr" d="M209.75,215.96 L215.15,225.90 L204.35,225.90 Z"/>
<path class="gr" d="M214.50,217.31 L219.90,227.25 L209.10,227.25 Z"/>
<path class="gr" d="M219.25,218.97 L224.65,228.91 L213.85,228.91 Z"/>
<path class="gr" d="M224.00,221.19 L229.40,231.13 L218.60,231.13 Z"/>
<path class="gr" d="M228.75,223.79 L234.15,233.73 L223.35,233.73 Z"/>
<path class="gr" d="M233.50,226.54 L238.90,236.47 L228.10,236.47 Z"/>
<path class="gr" d="M238.25,229.44 L243.65,239.38 L232.85,239.38 Z"/>
<path class="gr" d="M243.00,232.51 L248.40,242.45 L237.60,242.45 Z"/>
<path class="gr" d="M247.75,235.51 L253.15,245.44 L242.35,245.44 Z"/>
<path class="gr" d="M252.50,238.15 L257.90,248.08 L247.10,248.08 Z"/>
<path class="gr" d="M257.25,240.39 L262.65,250.32 L251.85,250.32 Z"/>
<path class="gr" d="M262.00,242.30 L267.40,252.24 L256.60,252.24 Z"/>
<path class="gr3" d="M266.00,243.27 L271.80,253.94 L260.20,253.94 Z"/>
<path class="gr3" d="M270.92,244.85 L276.72,255.53 L265.12,255.53 Z"/>
<path class="gr3" d="M275.85,246.52 L281.65,257.19 L270.05,257.19 Z"/>
<path class="gr3" d="M280.77,248.46 L286.57,259.13 L274.97,259.13 Z"/>
<path class="gr3" d="M285.69,250.69 L291.49,261.37 L279.89,261.37 Z"/>
<path class="gr3" d="M290.62,253.13 L296.42,263.80 L284.82,263.80 Z"/>
<path class="gr3" d="M295.54,255.71 L301.34,266.38 L289.74,266.38 Z"/>
<path class="gr3" d="M300.46,258.39 L306.26,269.06 L294.66,269.06 Z"/>
<path class="gr3" d="M305.38,261.27 L311.18,271.94 L299.58,271.94 Z"/>
<path class="gr3" d="M310.31,264.32 L316.11,274.99 L304.51,274.99 Z"/>
<path class="gr3" d="M315.23,267.37 L321.03,278.04 L309.43,278.04 Z"/>
<path class="gr3" d="M320.15,270.21 L325.95,280.89 L314.35,280.89 Z"/>
<path class="gr3" d="M325.08,272.82 L330.88,283.49 L319.28,283.49 Z"/>
<path class="gr3" d="M330.00,275.28 L335.80,285.95 L324.20,285.95 Z"/>
<path class="gr2" d="M332.00,275.96 L338.10,287.18 L325.90,287.18 Z"/>
<path class="gr2" d="M333.91,276.88 L340.01,288.11 L327.81,288.11 Z"/>
<path class="gr2" d="M335.82,277.80 L341.92,289.03 L329.72,289.03 Z"/>
<path class="gr2" d="M337.73,278.73 L343.83,289.95 L331.63,289.95 Z"/>
<path class="gr2" d="M339.64,279.65 L345.74,290.88 L333.54,290.88 Z"/>
<path class="gr2" d="M341.56,280.58 L347.66,291.81 L335.46,291.81 Z"/>
<path class="gr2" d="M343.47,281.51 L349.57,292.74 L337.37,292.74 Z"/>
<path class="gr2" d="M345.38,282.44 L351.48,293.66 L339.28,293.66 Z"/>
<path class="gr2" d="M347.29,283.36 L353.39,294.58 L341.19,294.58 Z"/>
<path class="gr2" d="M349.20,284.27 L355.30,295.50 L343.10,295.50 Z"/>
<path class="gr2" d="M351.11,285.18 L357.21,296.41 L345.01,296.41 Z"/>
<path class="gr2" d="M353.02,286.09 L359.12,297.31 L346.92,297.31 Z"/>
<path class="gr2" d="M354.93,286.98 L361.03,298.21 L348.83,298.21 Z"/>
<path class="gr2" d="M356.84,287.87 L362.94,299.10 L350.74,299.10 Z"/>
<path class="gr2" d="M358.76,288.76 L364.86,299.98 L352.66,299.98 Z"/>
<path class="gr2" d="M360.67,289.63 L366.77,300.86 L354.57,300.86 Z"/>
<path class="gr2" d="M362.58,290.50 L368.68,301.72 L356.48,301.72 Z"/>
<path class="gr2" d="M364.49,291.36 L370.59,302.58 L358.39,302.58 Z"/>
<path class="gr2" d="M366.40,292.21 L372.50,303.44 L360.30,303.44 Z"/>
<path class="gr2" d="M368.31,293.06 L374.41,304.28 L362.21,304.28 Z"/>
<path class="gr2" d="M370.22,293.90 L376.32,305.13 L364.12,305.13 Z"/>
<path class="gr2" d="M372.13,294.74 L378.23,305.97 L366.03,305.97 Z"/>
<path class="gr2" d="M374.04,295.58 L380.14,306.81 L367.94,306.81 Z"/>
<path class="gr2" d="M375.96,296.42 L382.06,307.64 L369.86,307.64 Z"/>
<path class="gr2" d="M377.87,297.25 L383.97,308.47 L371.77,308.47 Z"/>
<path class="gr2" d="M379.78,298.07 L385.88,309.30 L373.68,309.30 Z"/>
<path class="gr2" d="M381.69,298.90 L387.79,310.12 L375.59,310.12 Z"/>
<path class="gr2" d="M383.60,299.72 L389.70,310.95 L377.50,310.95 Z"/>
<path class="gr2" d="M385.51,300.55 L391.61,311.77 L379.41,311.77 Z"/>
<path class="gr2" d="M387.42,301.38 L393.52,312.60 L381.32,312.60 Z"/>
<path class="gr2" d="M389.33,302.21 L395.43,313.43 L383.23,313.43 Z"/>
<path class="gr2" d="M391.24,303.04 L397.34,314.27 L385.14,314.27 Z"/>
<path class="gr2" d="M393.16,303.86 L399.26,315.09 L387.06,315.09 Z"/>
<path class="gr2" d="M395.07,304.67 L401.17,315.89 L388.97,315.89 Z"/>
<path class="gr2" d="M396.98,305.45 L403.08,316.67 L390.88,316.67 Z"/>
<path class="gr2" d="M398.89,306.20 L404.99,317.43 L392.79,317.43 Z"/>
<path class="gr2" d="M400.80,306.92 L406.90,318.15 L394.70,318.15 Z"/>
<path class="gr2" d="M402.71,307.61 L408.81,318.83 L396.61,318.83 Z"/>
<path class="gr2" d="M404.62,308.26 L410.72,319.49 L398.52,319.49 Z"/>
<path class="gr2" d="M406.53,308.90 L412.63,320.12 L400.43,320.12 Z"/>
<path class="gr2" d="M408.44,309.52 L414.54,320.75 L402.34,320.75 Z"/>
<path class="gr2" d="M410.36,310.14 L416.46,321.36 L404.26,321.36 Z"/>
<path class="gr2" d="M412.27,310.75 L418.37,321.97 L406.17,321.97 Z"/>
<path class="gr2" d="M414.18,311.36 L420.28,322.59 L408.08,322.59 Z"/>
<path class="gr2" d="M416.09,311.99 L422.19,323.21 L409.99,323.21 Z"/>
<path class="gr2" d="M418.00,312.63 L424.10,323.86 L411.90,323.86 Z"/>
<path class="gr" d="M423.00,314.72 L428.80,325.40 L417.20,325.40 Z"/>
<path class="gr" d="M427.52,316.44 L433.32,327.12 L421.72,327.12 Z"/>
<path class="gr" d="M432.03,318.19 L437.83,328.86 L426.23,328.86 Z"/>
<path class="gr" d="M436.55,319.90 L442.35,330.57 L430.75,330.57 Z"/>
<path class="gr" d="M441.06,321.49 L446.86,332.17 L435.26,332.17 Z"/>
<path class="gr" d="M445.58,323.00 L451.38,333.68 L439.78,333.68 Z"/>
<path class="gr" d="M450.09,324.45 L455.89,335.13 L444.29,335.13 Z"/>
<path class="gr" d="M454.61,325.84 L460.41,336.52 L448.81,336.52 Z"/>
<path class="gr" d="M459.12,327.18 L464.93,337.85 L453.32,337.85 Z"/>
<path class="gr" d="M463.64,328.46 L469.44,339.13 L457.84,339.13 Z"/>
<path class="gr" d="M468.16,329.70 L473.96,340.37 L462.36,340.37 Z"/>
<path class="gr" d="M472.67,330.88 L478.47,341.55 L466.87,341.55 Z"/>
<path class="gr" d="M477.19,331.98 L482.99,342.65 L471.39,342.65 Z"/>
<path class="gr" d="M481.70,333.01 L487.50,343.68 L475.90,343.68 Z"/>
<path class="gr" d="M486.22,333.94 L492.02,344.62 L480.42,344.62 Z"/>
<path class="gr" d="M490.73,334.81 L496.53,345.48 L484.93,345.48 Z"/>
<path class="gr" d="M495.25,335.62 L501.05,346.29 L489.45,346.29 Z"/>
<path class="gr" d="M499.77,336.39 L505.57,347.06 L493.97,347.06 Z"/>
<path class="gr" d="M504.28,337.12 L510.08,347.79 L498.48,347.79 Z"/>
<path class="gr" d="M508.80,337.79 L514.60,348.47 L503.00,348.47 Z"/>
<path class="gr" d="M513.31,338.43 L519.11,349.10 L507.51,349.10 Z"/>
<path class="gr" d="M517.83,339.04 L523.63,349.71 L512.03,349.71 Z"/>
<path class="gr" d="M522.34,339.64 L528.14,350.31 L516.54,350.31 Z"/>
<path class="gr" d="M526.86,340.21 L532.66,350.88 L521.06,350.88 Z"/>
<path class="gr" d="M531.38,340.75 L537.17,351.43 L525.58,351.43 Z"/>
<path class="gr" d="M535.89,341.27 L541.69,351.95 L530.09,351.95 Z"/>
<path class="gr" d="M540.41,341.77 L546.21,352.45 L534.61,352.45 Z"/>
<path class="gr" d="M544.92,342.25 L550.72,352.92 L539.12,352.92 Z"/>
<path class="gr" d="M549.44,342.70 L555.24,353.37 L543.64,353.37 Z"/>
<path class="gr" d="M553.95,343.13 L559.75,353.81 L548.15,353.81 Z"/>
<path class="gr" d="M558.47,343.56 L564.27,354.24 L552.67,354.24 Z"/>
<path class="gr" d="M562.98,343.99 L568.78,354.67 L557.18,354.67 Z"/>
<path class="gr" d="M567.50,344.43 L573.30,355.10 L561.70,355.10 Z"/>
<rect class="bl" x="112.70" y="133.00" width="9.20" height="9.20"/>
<rect class="bl" x="124.50" y="157.70" width="9.20" height="9.20"/>
<rect class="bl" x="147.20" y="188.30" width="9.20" height="9.20"/>
<rect class="bl" x="172.40" y="212.40" width="9.20" height="9.20"/>
<rect class="bl" x="192.40" y="224.10" width="9.20" height="9.20"/>
<rect class="bl" x="203.00" y="236.40" width="9.20" height="9.20"/>
<rect class="bl" x="221.40" y="244.90" width="9.20" height="9.20"/>
<rect class="bl" x="243.10" y="260.40" width="9.20" height="9.20"/>
<rect class="bl" x="251.40" y="261.40" width="9.20" height="9.20"/>
<rect class="bl" x="254.68" y="263.10" width="9.20" height="9.20"/>
<rect class="bl" x="257.96" y="265.23" width="9.20" height="9.20"/>
<rect class="bl" x="261.23" y="267.08" width="9.20" height="9.20"/>
<rect class="bl" x="264.51" y="268.72" width="9.20" height="9.20"/>
<rect class="bl" x="267.79" y="270.10" width="9.20" height="9.20"/>
<rect class="bl" x="271.07" y="271.48" width="9.20" height="9.20"/>
<rect class="bl" x="274.34" y="272.99" width="9.20" height="9.20"/>
<rect class="bl" x="277.62" y="274.54" width="9.20" height="9.20"/>
<rect class="bl" x="280.90" y="276.13" width="9.20" height="9.20"/>
<rect class="bl" x="284.18" y="277.77" width="9.20" height="9.20"/>
<rect class="bl" x="287.46" y="279.52" width="9.20" height="9.20"/>
<rect class="bl" x="290.73" y="281.45" width="9.20" height="9.20"/>
<rect class="bl" x="294.01" y="283.24" width="9.20" height="9.20"/>
<rect class="bl" x="297.29" y="284.70" width="9.20" height="9.20"/>
<rect class="bl" x="300.57" y="285.94" width="9.20" height="9.20"/>
<rect class="bl" x="303.84" y="287.06" width="9.20" height="9.20"/>
<rect class="bl" x="307.12" y="288.16" width="9.20" height="9.20"/>
<rect class="bl" x="310.40" y="289.29" width="9.20" height="9.20"/>
<rect class="bl" x="313.68" y="290.51" width="9.20" height="9.20"/>
<rect class="bl" x="316.96" y="291.86" width="9.20" height="9.20"/>
<rect class="bl" x="320.23" y="293.34" width="9.20" height="9.20"/>
<rect class="bl" x="323.51" y="294.88" width="9.20" height="9.20"/>
<rect class="bl" x="326.79" y="296.48" width="9.20" height="9.20"/>
<rect class="bl" x="330.07" y="298.10" width="9.20" height="9.20"/>
<rect class="bl" x="333.34" y="299.71" width="9.20" height="9.20"/>
<rect class="bl" x="336.62" y="301.29" width="9.20" height="9.20"/>
<rect class="bl" x="339.90" y="302.91" width="9.20" height="9.20"/>
<rect class="bl" x="343.18" y="304.55" width="9.20" height="9.20"/>
<rect class="bl" x="346.46" y="306.16" width="9.20" height="9.20"/>
<rect class="bl" x="349.73" y="307.68" width="9.20" height="9.20"/>
<rect class="bl" x="353.01" y="309.06" width="9.20" height="9.20"/>
<rect class="bl" x="356.29" y="310.35" width="9.20" height="9.20"/>
<rect class="bl" x="359.57" y="311.43" width="9.20" height="9.20"/>
<rect class="bl" x="362.84" y="312.17" width="9.20" height="9.20"/>
<rect class="bl" x="366.12" y="312.47" width="9.20" height="9.20"/>
<rect class="bl" x="369.40" y="312.70" width="9.20" height="9.20"/>
<rect class="pu" x="106.45" y="80.25" width="11.50" height="11.50"/>
<rect class="pu" x="125.75" y="109.25" width="11.50" height="11.50"/>
<rect class="pu" x="140.55" y="137.65" width="11.50" height="11.50"/>
<rect class="pu" x="206.65" y="190.25" width="11.50" height="11.50"/>
<rect class="pu" x="218.85" y="196.55" width="11.50" height="11.50"/>
<rect class="pu" x="224.73" y="200.28" width="11.50" height="11.50"/>
<rect class="pu" x="230.62" y="203.93" width="11.50" height="11.50"/>
<rect class="pu" x="236.50" y="207.30" width="11.50" height="11.50"/>
<rect class="pu" x="242.38" y="210.45" width="11.50" height="11.50"/>
<rect class="pu" x="248.27" y="213.64" width="11.50" height="11.50"/>
<rect class="pu" x="254.15" y="217.01" width="11.50" height="11.50"/>
<rect class="pu" x="260.03" y="220.36" width="11.50" height="11.50"/>
<rect class="pu" x="265.92" y="223.49" width="11.50" height="11.50"/>
<rect class="pu" x="271.80" y="226.32" width="11.50" height="11.50"/>
<rect class="pu" x="277.68" y="229.42" width="11.50" height="11.50"/>
<rect class="pu" x="283.57" y="232.70" width="11.50" height="11.50"/>
<rect class="pu" x="289.45" y="235.57" width="11.50" height="11.50"/>
<rect class="pu" x="293.25" y="237.30" width="11.50" height="11.50"/>
<rect class="pu" x="297.10" y="239.02" width="11.50" height="11.50"/>
<rect class="pu" x="300.95" y="240.70" width="11.50" height="11.50"/>
<rect class="pu" x="304.80" y="242.36" width="11.50" height="11.50"/>
<rect class="pu" x="308.65" y="244.01" width="11.50" height="11.50"/>
<rect class="pu" x="312.50" y="245.68" width="11.50" height="11.50"/>
<rect class="pu" x="316.35" y="247.38" width="11.50" height="11.50"/>
<rect class="pu" x="320.20" y="249.12" width="11.50" height="11.50"/>
<rect class="pu" x="324.05" y="250.86" width="11.50" height="11.50"/>
<rect class="pu" x="327.90" y="252.60" width="11.50" height="11.50"/>
<rect class="pu" x="331.75" y="254.34" width="11.50" height="11.50"/>
<rect class="pu" x="335.60" y="256.04" width="11.50" height="11.50"/>
<rect class="pu" x="339.45" y="257.73" width="11.50" height="11.50"/>
<rect class="pu" x="343.30" y="259.40" width="11.50" height="11.50"/>
<rect class="pu" x="347.15" y="261.06" width="11.50" height="11.50"/>
<rect class="pu" x="351.00" y="262.70" width="11.50" height="11.50"/>
<rect class="pu" x="354.85" y="264.30" width="11.50" height="11.50"/>
<rect class="pu" x="358.70" y="265.86" width="11.50" height="11.50"/>
<rect class="pu" x="362.55" y="267.40" width="11.50" height="11.50"/>
<rect class="pu" x="366.40" y="268.92" width="11.50" height="11.50"/>
<rect class="pu" x="370.25" y="270.41" width="11.50" height="11.50"/>
<rect class="pu2" x="374.25" y="271.95" width="11.50" height="11.50"/>
<rect class="pu2" x="377.79" y="273.28" width="11.50" height="11.50"/>
<rect class="pu2" x="381.33" y="274.57" width="11.50" height="11.50"/>
<rect class="pu2" x="384.87" y="275.84" width="11.50" height="11.50"/>
<rect class="pu2" x="388.40" y="277.13" width="11.50" height="11.50"/>
<rect class="pu2" x="391.94" y="278.45" width="11.50" height="11.50"/>
<rect class="pu2" x="395.48" y="279.84" width="11.50" height="11.50"/>
<rect class="pu2" x="399.02" y="281.29" width="11.50" height="11.50"/>
<rect class="pu2" x="402.56" y="282.79" width="11.50" height="11.50"/>
<rect class="pu2" x="406.10" y="284.30" width="11.50" height="11.50"/>
<rect class="pu2" x="409.63" y="285.82" width="11.50" height="11.50"/>
<rect class="pu2" x="413.17" y="287.31" width="11.50" height="11.50"/>
<rect class="pu2" x="416.71" y="288.75" width="11.50" height="11.50"/>
<rect class="pu2" x="420.25" y="290.19" width="11.50" height="11.50"/>
<rect class="pu2" x="423.79" y="291.60" width="11.50" height="11.50"/>
<rect class="pu2" x="427.33" y="293.01" width="11.50" height="11.50"/>
<rect class="pu2" x="430.87" y="294.41" width="11.50" height="11.50"/>
<rect class="pu2" x="434.40" y="295.81" width="11.50" height="11.50"/>
<rect class="pu2" x="437.94" y="297.21" width="11.50" height="11.50"/>
<rect class="pu2" x="441.48" y="298.61" width="11.50" height="11.50"/>
<rect class="pu2" x="445.02" y="300.00" width="11.50" height="11.50"/>
<rect class="pu2" x="448.56" y="301.38" width="11.50" height="11.50"/>
<rect class="pu2" x="452.10" y="302.74" width="11.50" height="11.50"/>
<rect class="pu2" x="455.63" y="304.07" width="11.50" height="11.50"/>
<rect class="pu2" x="459.17" y="305.41" width="11.50" height="11.50"/>
<rect class="pu2" x="462.71" y="306.74" width="11.50" height="11.50"/>
<rect class="pu2" x="466.25" y="308.04" width="11.50" height="11.50"/>
<rect class="pu" x="471.75" y="309.95" width="11.50" height="11.50"/>
<rect class="pu" x="477.25" y="311.65" width="11.50" height="11.50"/>
<rect class="pu" x="482.75" y="313.18" width="11.50" height="11.50"/>
<rect class="pu" x="488.25" y="314.59" width="11.50" height="11.50"/>
<rect class="pu" x="493.75" y="315.93" width="11.50" height="11.50"/>
<rect class="pu" x="499.25" y="317.20" width="11.50" height="11.50"/>
<rect class="pu" x="504.75" y="318.39" width="11.50" height="11.50"/>
<rect class="pu" x="510.25" y="319.56" width="11.50" height="11.50"/>
<rect class="pu" x="515.75" y="320.80" width="11.50" height="11.50"/>
<rect class="pu" x="521.25" y="322.13" width="11.50" height="11.50"/>
<rect class="pu" x="526.75" y="323.49" width="11.50" height="11.50"/>
<rect class="pu" x="532.25" y="324.80" width="11.50" height="11.50"/>
<rect class="pu2" x="536.25" y="325.68" width="11.50" height="11.50"/>
<rect class="pu2" x="540.50" y="326.54" width="11.50" height="11.50"/>
<rect class="pu2" x="544.75" y="327.36" width="11.50" height="11.50"/>
<rect class="pu2" x="549.00" y="328.18" width="11.50" height="11.50"/>
<rect class="pu2" x="553.25" y="329.04" width="11.50" height="11.50"/>
<rect class="pu2" x="557.50" y="329.95" width="11.50" height="11.50"/>
<rect class="pu2" x="561.75" y="330.90" width="11.50" height="11.50"/>
<rect class="pu2" x="566.00" y="331.87" width="11.50" height="11.50"/>
<rect class="pu2" x="570.25" y="332.84" width="11.50" height="11.50"/>
<rect class="pu2" x="574.50" y="333.81" width="11.50" height="11.50"/>
<rect class="pu2" x="578.75" y="334.76" width="11.50" height="11.50"/>
<rect class="pu2" x="583.00" y="335.71" width="11.50" height="11.50"/>
<rect class="pu2" x="587.25" y="336.66" width="11.50" height="11.50"/>
<rect class="pu" x="593.65" y="338.05" width="11.50" height="11.50"/>
<circle class="or" cx="107.20" cy="89.50" r="5.70"/>
<circle class="or" cx="111.70" cy="108.80" r="5.70"/>
<circle class="or" cx="120.30" cy="116.20" r="5.70"/>
<circle class="or" cx="122.90" cy="127.70" r="5.70"/>
<circle class="or" cx="128.30" cy="139.50" r="5.70"/>
<circle class="or" cx="137.00" cy="147.60" r="5.70"/>
<circle class="or" cx="143.50" cy="154.10" r="5.70"/>
<circle class="or" cx="146.60" cy="162.00" r="5.70"/>
<circle class="or" cx="157.00" cy="175.00" r="5.70"/>
<circle class="or" cx="168.20" cy="186.20" r="5.70"/>
<circle class="or" cx="176.90" cy="194.20" r="5.70"/>
<circle class="or" cx="180.80" cy="197.80" r="5.70"/>
<circle class="or" cx="184.50" cy="202.00" r="5.70"/>
<circle class="or" cx="195.70" cy="208.30" r="5.70"/>
<circle class="or" cx="203.60" cy="215.30" r="5.70"/>
<circle class="or" cx="209.40" cy="220.10" r="5.70"/>
<circle class="or" cx="214.20" cy="224.00" r="5.70"/>
<circle class="or" cx="220.60" cy="228.30" r="5.70"/>
<circle class="or" cx="228.60" cy="232.40" r="5.70"/>
<circle class="or" cx="232.80" cy="235.40" r="5.70"/>
<circle class="or" cx="237.50" cy="239.20" r="5.70"/>
<circle class="or" cx="243.90" cy="243.40" r="5.70"/>
<circle class="or" cx="250.00" cy="247.80" r="5.70"/>
<circle class="or" cx="255.20" cy="251.30" r="5.70"/>
<circle class="or" cx="259.00" cy="254.00" r="5.70"/>
<circle class="or" cx="263.20" cy="258.00" r="5.70"/>
<circle class="or" cx="267.90" cy="262.50" r="5.70"/>
<circle class="or" cx="272.60" cy="265.70" r="5.70"/>
<circle class="or" cx="278.20" cy="269.50" r="5.70"/>
<circle class="or2" cx="282.50" cy="271.44" r="5.70"/>
<circle class="or2" cx="286.72" cy="273.36" r="5.70"/>
<circle class="or2" cx="290.94" cy="275.54" r="5.70"/>
<circle class="or2" cx="295.17" cy="278.29" r="5.70"/>
<circle class="or2" cx="299.39" cy="280.65" r="5.70"/>
<circle class="or2" cx="303.61" cy="283.23" r="5.70"/>
<circle class="or2" cx="307.83" cy="285.93" r="5.70"/>
<circle class="or2" cx="312.06" cy="288.64" r="5.70"/>
<circle class="or2" cx="316.28" cy="291.30" r="5.70"/>
<circle class="or2" cx="320.50" cy="294.00" r="5.70"/>
<circle class="or2" cx="324.72" cy="296.66" r="5.70"/>
<circle class="or2" cx="328.94" cy="299.20" r="5.70"/>
<circle class="or2" cx="333.17" cy="301.54" r="5.70"/>
<circle class="or2" cx="337.39" cy="303.74" r="5.70"/>
<circle class="or2" cx="341.61" cy="305.85" r="5.70"/>
<circle class="or2" cx="345.83" cy="307.90" r="5.70"/>
<circle class="or2" cx="350.06" cy="309.86" r="5.70"/>
<circle class="or2" cx="354.28" cy="311.74" r="5.70"/>
<circle class="or2" cx="358.50" cy="313.58" r="5.70"/>
<circle class="or" cx="362.60" cy="315.00" r="5.70"/>
</svg>
</body></html>
